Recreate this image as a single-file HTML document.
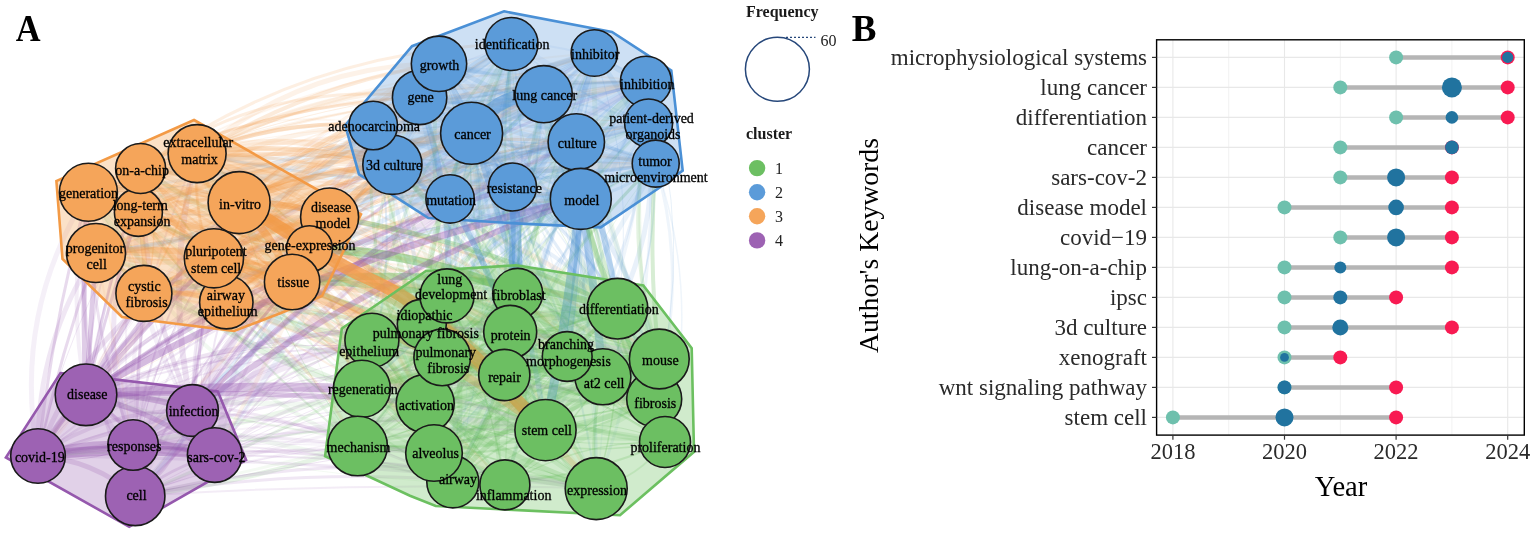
<!DOCTYPE html><html><head><meta charset="utf-8"><style>
html,body{margin:0;padding:0;background:#fff;}
body{width:1535px;height:535px;overflow:hidden;}
svg{display:block;}
text{font-family:"Liberation Serif","Times New Roman",serif;}
</style></head><body>
<svg width="1535" height="535" viewBox="0 0 1535 535">
<text transform="translate(15.8,41.3) scale(0.93,1)" font-size="37" font-weight="bold" fill="#000">A</text>
<g fill="none" stroke-linecap="butt">
<path d="M197.1 153.6Q175.7 190.9 138.4 212.4" stroke="#f29b4a" stroke-width="1" stroke-opacity="0.15"/>
<path d="M197.1 153.6Q170.6 167.9 140.6 168.5" stroke="#f29b4a" stroke-width="2" stroke-opacity="0.15"/>
<path d="M197.1 153.6Q148.1 188 88.4 192.2" stroke="#f29b4a" stroke-width="5" stroke-opacity="0.15"/>
<path d="M329.6 217Q256 200.6 197.1 153.6" stroke="#f29b4a" stroke-width="1" stroke-opacity="0.22"/>
<path d="M226.3 302.2Q191.5 231.9 197.1 153.6" stroke="#f29b4a" stroke-width="3" stroke-opacity="0.20"/>
<path d="M213.9 258.3Q190.8 208.3 197.1 153.6" stroke="#f29b4a" stroke-width="2" stroke-opacity="0.15"/>
<path d="M197.1 153.6Q267.3 184.7 309.5 248.8" stroke="#f29b4a" stroke-width="1.5" stroke-opacity="0.22"/>
<path d="M292.1 282Q220.3 235.8 197.1 153.6" stroke="#f29b4a" stroke-width="4" stroke-opacity="0.21"/>
<path d="M197.1 153.6Q183.7 228.5 143.9 293.4" stroke="#f29b4a" stroke-width="2" stroke-opacity="0.24"/>
<path d="M594.4 53Q415.6 181.7 197.1 153.6" stroke="#4a8fd4" stroke-width="4" stroke-opacity="0.10"/>
<path d="M197.1 153.6Q301.1 96.9 419.6 97.4" stroke="#f29b4a" stroke-width="3" stroke-opacity="0.09"/>
<path d="M197.1 153.6Q301.7 64.5 439 63.8" stroke="#f29b4a" stroke-width="5" stroke-opacity="0.13"/>
<path d="M197.1 153.6Q360.2 64.4 543.7 94.2" stroke="#f29b4a" stroke-width="6" stroke-opacity="0.12"/>
<path d="M197.1 153.6Q410.5 49 645.9 81.7" stroke="#f29b4a" stroke-width="2" stroke-opacity="0.12"/>
<path d="M197.1 153.6Q296.7 125 392.4 164.8" stroke="#f29b4a" stroke-width="6" stroke-opacity="0.17"/>
<path d="M197.1 153.6Q281.6 117.6 373.2 125.5" stroke="#f29b4a" stroke-width="3" stroke-opacity="0.07"/>
<path d="M197.1 153.6Q332.3 115.9 471.6 133.3" stroke="#f29b4a" stroke-width="1" stroke-opacity="0.09"/>
<path d="M576.3 142Q388.1 194.4 197.1 153.6" stroke="#4a8fd4" stroke-width="4" stroke-opacity="0.08"/>
<path d="M655.7 163.6Q425.4 204 197.1 153.6" stroke="#4a8fd4" stroke-width="3" stroke-opacity="0.16"/>
<path d="M197.1 153.6Q327.3 155.7 450.1 198.9" stroke="#f29b4a" stroke-width="3" stroke-opacity="0.17"/>
<path d="M197.1 153.6Q360.7 114.7 512.5 187" stroke="#f29b4a" stroke-width="2" stroke-opacity="0.07"/>
<path d="M197.1 153.6Q394 133.4 580.8 198.9" stroke="#f29b4a" stroke-width="1.5" stroke-opacity="0.11"/>
<path d="M425.2 403.6Q282.2 305 197.1 153.6" stroke="#5fb654" stroke-width="5" stroke-opacity="0.11"/>
<path d="M442.2 357.4Q279.3 304 197.1 153.6" stroke="#5fb654" stroke-width="1" stroke-opacity="0.09"/>
<path d="M567.2 356.5Q365.7 285.1 197.1 153.6" stroke="#5fb654" stroke-width="1" stroke-opacity="0.07"/>
<path d="M197.1 153.6Q447.5 235.6 654.2 399.1" stroke="#f29b4a" stroke-width="1" stroke-opacity="0.08"/>
<path d="M659.3 359Q402.2 314.7 197.1 153.6" stroke="#5fb654" stroke-width="3" stroke-opacity="0.13"/>
<path d="M197.1 153.6Q373.7 232.5 504.3 375" stroke="#f29b4a" stroke-width="4" stroke-opacity="0.12"/>
<path d="M361.9 388.8Q242.6 297.1 197.1 153.6" stroke="#5fb654" stroke-width="2" stroke-opacity="0.12"/>
<path d="M357.6 446Q237.6 321.6 197.1 153.6" stroke="#5fb654" stroke-width="3" stroke-opacity="0.08"/>
<path d="M197.1 153.6Q356.6 293.1 452.8 481.9" stroke="#f29b4a" stroke-width="1" stroke-opacity="0.14"/>
<path d="M197.1 153.6Q366.2 263.2 434 453" stroke="#f29b4a" stroke-width="2" stroke-opacity="0.12"/>
<path d="M197.1 153.6Q481.4 216.1 665 442" stroke="#f29b4a" stroke-width="2" stroke-opacity="0.15"/>
<path d="M197.1 153.6Q463.2 241.9 596.2 488.6" stroke="#f29b4a" stroke-width="3" stroke-opacity="0.14"/>
<path d="M192.5 410.5Q163.3 281.5 197.1 153.6" stroke="#9555ae" stroke-width="6" stroke-opacity="0.17"/>
<path d="M133.1 445Q133.8 292.4 197.1 153.6" stroke="#9555ae" stroke-width="2" stroke-opacity="0.12"/>
<path d="M140.6 168.5Q146.1 190.8 138.4 212.4" stroke="#f29b4a" stroke-width="1" stroke-opacity="0.21"/>
<path d="M138.4 212.4Q110 210.8 88.4 192.2" stroke="#f29b4a" stroke-width="1.5" stroke-opacity="0.27"/>
<path d="M138.4 212.4Q187.3 192.5 239.1 202.6" stroke="#f29b4a" stroke-width="2" stroke-opacity="0.20"/>
<path d="M329.6 217Q233.2 246.1 138.4 212.4" stroke="#f29b4a" stroke-width="5" stroke-opacity="0.20"/>
<path d="M138.4 212.4Q123 238.8 96 253" stroke="#f29b4a" stroke-width="2" stroke-opacity="0.14"/>
<path d="M226.3 302.2Q172.6 266.9 138.4 212.4" stroke="#f29b4a" stroke-width="6" stroke-opacity="0.23"/>
<path d="M138.4 212.4Q183.6 223.1 213.9 258.3" stroke="#f29b4a" stroke-width="1" stroke-opacity="0.25"/>
<path d="M309.5 248.8Q217.3 261.7 138.4 212.4" stroke="#f29b4a" stroke-width="2" stroke-opacity="0.20"/>
<path d="M138.4 212.4Q224.3 227.2 292.1 282" stroke="#f29b4a" stroke-width="3" stroke-opacity="0.17"/>
<path d="M138.4 212.4Q146.7 252.5 143.9 293.4" stroke="#f29b4a" stroke-width="5" stroke-opacity="0.26"/>
<path d="M138.4 212.4Q331.4 120.4 543.7 94.2" stroke="#f29b4a" stroke-width="5" stroke-opacity="0.08"/>
<path d="M645.9 81.7Q414.2 232.6 138.4 212.4" stroke="#4a8fd4" stroke-width="1.5" stroke-opacity="0.13"/>
<path d="M138.4 212.4Q258.8 153.6 392.4 164.8" stroke="#f29b4a" stroke-width="6" stroke-opacity="0.14"/>
<path d="M138.4 212.4Q241.1 129.3 373.2 125.5" stroke="#f29b4a" stroke-width="5" stroke-opacity="0.12"/>
<path d="M138.4 212.4Q381.8 100.8 648.6 123" stroke="#f29b4a" stroke-width="1" stroke-opacity="0.15"/>
<path d="M138.4 212.4Q323.2 166.8 512.5 187" stroke="#f29b4a" stroke-width="5" stroke-opacity="0.13"/>
<path d="M138.4 212.4Q358.3 163.8 580.8 198.9" stroke="#f29b4a" stroke-width="4" stroke-opacity="0.12"/>
<path d="M138.4 212.4Q270.7 247.8 371.9 340.2" stroke="#f29b4a" stroke-width="3" stroke-opacity="0.08"/>
<path d="M138.4 212.4Q301.4 278.6 425.2 403.6" stroke="#f29b4a" stroke-width="1" stroke-opacity="0.09"/>
<path d="M442.2 357.4Q263.7 340.7 138.4 212.4" stroke="#5fb654" stroke-width="3" stroke-opacity="0.08"/>
<path d="M567.2 356.5Q340.9 320 138.4 212.4" stroke="#5fb654" stroke-width="3" stroke-opacity="0.16"/>
<path d="M659.3 359Q381.4 347.7 138.4 212.4" stroke="#5fb654" stroke-width="5" stroke-opacity="0.11"/>
<path d="M138.4 212.4Q343.7 243.4 504.3 375" stroke="#f29b4a" stroke-width="3" stroke-opacity="0.07"/>
<path d="M138.4 212.4Q384.3 242.1 545.5 430.1" stroke="#f29b4a" stroke-width="6" stroke-opacity="0.10"/>
<path d="M357.6 446Q230.6 345.6 138.4 212.4" stroke="#5fb654" stroke-width="2" stroke-opacity="0.17"/>
<path d="M138.4 212.4Q316.7 322.6 452.8 481.9" stroke="#f29b4a" stroke-width="1.5" stroke-opacity="0.10"/>
<path d="M138.4 212.4Q411 278.1 596.2 488.6" stroke="#f29b4a" stroke-width="5" stroke-opacity="0.13"/>
<path d="M86 394.8Q99.4 299.9 138.4 212.4" stroke="#9555ae" stroke-width="1.5" stroke-opacity="0.11"/>
<path d="M38 456Q66 325 138.4 212.4" stroke="#9555ae" stroke-width="1" stroke-opacity="0.13"/>
<path d="M214.7 455.1Q143.2 344.2 138.4 212.4" stroke="#9555ae" stroke-width="1" stroke-opacity="0.10"/>
<path d="M133.1 445Q91.2 327.7 138.4 212.4" stroke="#9555ae" stroke-width="5" stroke-opacity="0.14"/>
<path d="M140.6 168.5Q194.4 172.3 239.1 202.6" stroke="#f29b4a" stroke-width="3" stroke-opacity="0.23"/>
<path d="M140.6 168.5Q243.5 160.1 329.6 217" stroke="#f29b4a" stroke-width="2" stroke-opacity="0.18"/>
<path d="M140.6 168.5Q196.1 227.3 226.3 302.2" stroke="#f29b4a" stroke-width="2" stroke-opacity="0.21"/>
<path d="M213.9 258.3Q165 223.4 140.6 168.5" stroke="#f29b4a" stroke-width="5" stroke-opacity="0.23"/>
<path d="M309.5 248.8Q209.2 242 140.6 168.5" stroke="#f29b4a" stroke-width="3" stroke-opacity="0.24"/>
<path d="M292.1 282Q204 241.7 140.6 168.5" stroke="#f29b4a" stroke-width="2" stroke-opacity="0.20"/>
<path d="M140.6 168.5Q165.1 230.3 143.9 293.4" stroke="#f29b4a" stroke-width="1.5" stroke-opacity="0.23"/>
<path d="M140.6 168.5Q306.9 49.2 511.5 44" stroke="#f29b4a" stroke-width="3" stroke-opacity="0.16"/>
<path d="M140.6 168.5Q357.6 71.7 594.4 53" stroke="#f29b4a" stroke-width="2" stroke-opacity="0.07"/>
<path d="M140.6 168.5Q266.2 78.2 419.6 97.4" stroke="#f29b4a" stroke-width="3" stroke-opacity="0.17"/>
<path d="M140.6 168.5Q280.8 90.6 439 63.8" stroke="#f29b4a" stroke-width="2" stroke-opacity="0.09"/>
<path d="M140.6 168.5Q335.6 95.8 543.7 94.2" stroke="#f29b4a" stroke-width="2" stroke-opacity="0.12"/>
<path d="M140.6 168.5Q386.3 84.6 645.9 81.7" stroke="#f29b4a" stroke-width="2" stroke-opacity="0.15"/>
<path d="M140.6 168.5Q248.6 101.9 373.2 125.5" stroke="#f29b4a" stroke-width="2" stroke-opacity="0.08"/>
<path d="M648.6 123Q399.4 199.4 140.6 168.5" stroke="#4a8fd4" stroke-width="6" stroke-opacity="0.11"/>
<path d="M140.6 168.5Q397.3 74.9 655.7 163.6" stroke="#f29b4a" stroke-width="1.5" stroke-opacity="0.07"/>
<path d="M140.6 168.5Q403.4 155.7 617.5 308.7" stroke="#f29b4a" stroke-width="5" stroke-opacity="0.13"/>
<path d="M421.8 323.9Q271 264.7 140.6 168.5" stroke="#5fb654" stroke-width="2" stroke-opacity="0.08"/>
<path d="M140.6 168.5Q281.6 220.2 371.9 340.2" stroke="#f29b4a" stroke-width="1" stroke-opacity="0.13"/>
<path d="M602.9 376.8Q356.6 306.3 140.6 168.5" stroke="#5fb654" stroke-width="5" stroke-opacity="0.16"/>
<path d="M545.5 430.1Q291.6 378.9 140.6 168.5" stroke="#5fb654" stroke-width="2" stroke-opacity="0.14"/>
<path d="M140.6 168.5Q342.6 279.5 452.8 481.9" stroke="#f29b4a" stroke-width="2" stroke-opacity="0.15"/>
<path d="M140.6 168.5Q445.7 222.9 665 442" stroke="#f29b4a" stroke-width="2" stroke-opacity="0.14"/>
<path d="M140.6 168.5Q417.7 258.4 596.2 488.6" stroke="#f29b4a" stroke-width="4" stroke-opacity="0.10"/>
<path d="M86 394.8Q90.7 276.2 140.6 168.5" stroke="#9555ae" stroke-width="2" stroke-opacity="0.14"/>
<path d="M192.5 410.5Q118.9 299.7 140.6 168.5" stroke="#9555ae" stroke-width="5" stroke-opacity="0.09"/>
<path d="M214.7 455.1Q142.4 320.9 140.6 168.5" stroke="#9555ae" stroke-width="5" stroke-opacity="0.17"/>
<path d="M135.2 495.9Q114.1 331.8 140.6 168.5" stroke="#9555ae" stroke-width="2" stroke-opacity="0.08"/>
<path d="M88.4 192.2Q165.4 173.5 239.1 202.6" stroke="#f29b4a" stroke-width="3" stroke-opacity="0.26"/>
<path d="M329.6 217Q207 224.4 88.4 192.2" stroke="#f29b4a" stroke-width="6" stroke-opacity="0.20"/>
<path d="M88.4 192.2Q169.7 231.7 226.3 302.2" stroke="#f29b4a" stroke-width="2" stroke-opacity="0.20"/>
<path d="M88.4 192.2Q162.9 203 213.9 258.3" stroke="#f29b4a" stroke-width="4" stroke-opacity="0.25"/>
<path d="M309.5 248.8Q193.3 242.7 88.4 192.2" stroke="#f29b4a" stroke-width="1" stroke-opacity="0.27"/>
<path d="M88.4 192.2Q201 212.7 292.1 282" stroke="#f29b4a" stroke-width="1.5" stroke-opacity="0.19"/>
<path d="M88.4 192.2Q131.6 234.3 143.9 293.4" stroke="#f29b4a" stroke-width="1.5" stroke-opacity="0.15"/>
<path d="M594.4 53Q353.5 166.4 88.4 192.2" stroke="#4a8fd4" stroke-width="3" stroke-opacity="0.12"/>
<path d="M419.6 97.4Q268.1 193.9 88.4 192.2" stroke="#4a8fd4" stroke-width="1" stroke-opacity="0.15"/>
<path d="M88.4 192.2Q354.2 71.4 645.9 81.7" stroke="#f29b4a" stroke-width="1" stroke-opacity="0.16"/>
<path d="M373.2 125.5Q243.5 212.9 88.4 192.2" stroke="#4a8fd4" stroke-width="4" stroke-opacity="0.07"/>
<path d="M88.4 192.2Q274.4 126 471.6 133.3" stroke="#f29b4a" stroke-width="3" stroke-opacity="0.10"/>
<path d="M88.4 192.2Q368.8 112.5 655.7 163.6" stroke="#f29b4a" stroke-width="4" stroke-opacity="0.13"/>
<path d="M88.4 192.2Q270.4 132.7 450.1 198.9" stroke="#f29b4a" stroke-width="2" stroke-opacity="0.12"/>
<path d="M88.4 192.2Q335.5 128.2 580.8 198.9" stroke="#f29b4a" stroke-width="4" stroke-opacity="0.11"/>
<path d="M88.4 192.2Q312.5 202.7 517.6 293.4" stroke="#f29b4a" stroke-width="5" stroke-opacity="0.08"/>
<path d="M88.4 192.2Q366.7 188.1 617.5 308.7" stroke="#f29b4a" stroke-width="1" stroke-opacity="0.14"/>
<path d="M88.4 192.2Q318.9 202.8 510.2 331.9" stroke="#f29b4a" stroke-width="1" stroke-opacity="0.12"/>
<path d="M371.9 340.2Q203.4 317.5 88.4 192.2" stroke="#5fb654" stroke-width="5" stroke-opacity="0.13"/>
<path d="M88.4 192.2Q288.6 247.2 425.2 403.6" stroke="#f29b4a" stroke-width="2" stroke-opacity="0.11"/>
<path d="M602.9 376.8Q323.6 346 88.4 192.2" stroke="#5fb654" stroke-width="1" stroke-opacity="0.08"/>
<path d="M361.9 388.8Q186.6 344.1 88.4 192.2" stroke="#5fb654" stroke-width="5" stroke-opacity="0.16"/>
<path d="M88.4 192.2Q363.6 221.5 545.5 430.1" stroke="#f29b4a" stroke-width="1.5" stroke-opacity="0.09"/>
<path d="M357.6 446Q180.2 364.5 88.4 192.2" stroke="#5fb654" stroke-width="4" stroke-opacity="0.08"/>
<path d="M88.4 192.2Q314.2 282.3 452.8 481.9" stroke="#f29b4a" stroke-width="6" stroke-opacity="0.16"/>
<path d="M88.4 192.2Q292.8 280.7 434 453" stroke="#f29b4a" stroke-width="2" stroke-opacity="0.12"/>
<path d="M88.4 192.2Q324.9 298.3 504.9 484.9" stroke="#f29b4a" stroke-width="6" stroke-opacity="0.09"/>
<path d="M86 394.8Q66.1 293.2 88.4 192.2" stroke="#9555ae" stroke-width="4" stroke-opacity="0.10"/>
<path d="M38 456Q11.9 314.3 88.4 192.2" stroke="#9555ae" stroke-width="5" stroke-opacity="0.09"/>
<path d="M135.2 495.9Q66.1 351.1 88.4 192.2" stroke="#9555ae" stroke-width="4" stroke-opacity="0.16"/>
<path d="M133.1 445Q87.6 322.7 88.4 192.2" stroke="#9555ae" stroke-width="3" stroke-opacity="0.16"/>
<path d="M239.1 202.6Q286 199.3 329.6 217" stroke="#f29b4a" stroke-width="5" stroke-opacity="0.19"/>
<path d="M239.1 202.6Q177.4 255.8 96 253" stroke="#f29b4a" stroke-width="1.5" stroke-opacity="0.17"/>
<path d="M226.3 302.2Q223 251.2 239.1 202.6" stroke="#f29b4a" stroke-width="2" stroke-opacity="0.21"/>
<path d="M239.1 202.6Q236.8 235.1 213.9 258.3" stroke="#f29b4a" stroke-width="6" stroke-opacity="0.23"/>
<path d="M309.5 248.8Q270.6 231.4 239.1 202.6" stroke="#f29b4a" stroke-width="1" stroke-opacity="0.27"/>
<path d="M239.1 202.6Q278.3 233.9 292.1 282" stroke="#f29b4a" stroke-width="2" stroke-opacity="0.20"/>
<path d="M239.1 202.6Q209.6 267 143.9 293.4" stroke="#f29b4a" stroke-width="4" stroke-opacity="0.24"/>
<path d="M239.1 202.6Q407.1 104.9 594.4 53" stroke="#f29b4a" stroke-width="5" stroke-opacity="0.14"/>
<path d="M239.1 202.6Q328.6 118.2 439 63.8" stroke="#f29b4a" stroke-width="3" stroke-opacity="0.11"/>
<path d="M239.1 202.6Q383 124.8 543.7 94.2" stroke="#f29b4a" stroke-width="3" stroke-opacity="0.17"/>
<path d="M239.1 202.6Q311.2 165.2 392.4 164.8" stroke="#f29b4a" stroke-width="2" stroke-opacity="0.15"/>
<path d="M239.1 202.6Q296.7 147.6 373.2 125.5" stroke="#f29b4a" stroke-width="3" stroke-opacity="0.12"/>
<path d="M239.1 202.6Q347.2 140.6 471.6 133.3" stroke="#f29b4a" stroke-width="4" stroke-opacity="0.07"/>
<path d="M239.1 202.6Q444.7 154.5 655.7 163.6" stroke="#f29b4a" stroke-width="1" stroke-opacity="0.15"/>
<path d="M239.1 202.6Q344.2 180 450.1 198.9" stroke="#f29b4a" stroke-width="6" stroke-opacity="0.10"/>
<path d="M517.6 293.4Q369.1 276.3 239.1 202.6" stroke="#5fb654" stroke-width="3" stroke-opacity="0.16"/>
<path d="M371.9 340.2Q278.8 297.2 239.1 202.6" stroke="#5fb654" stroke-width="1" stroke-opacity="0.12"/>
<path d="M239.1 202.6Q352.8 264 442.2 357.4" stroke="#f29b4a" stroke-width="3" stroke-opacity="0.15"/>
<path d="M567.2 356.5Q377.3 334.7 239.1 202.6" stroke="#5fb654" stroke-width="2" stroke-opacity="0.15"/>
<path d="M239.1 202.6Q471.6 220.5 659.3 359" stroke="#f29b4a" stroke-width="3" stroke-opacity="0.15"/>
<path d="M239.1 202.6Q312.6 287.7 361.9 388.8" stroke="#f29b4a" stroke-width="3" stroke-opacity="0.08"/>
<path d="M357.6 446Q274.7 335.8 239.1 202.6" stroke="#5fb654" stroke-width="1" stroke-opacity="0.17"/>
<path d="M239.1 202.6Q400.7 300.3 452.8 481.9" stroke="#f29b4a" stroke-width="4" stroke-opacity="0.17"/>
<path d="M239.1 202.6Q375.2 297.7 434 453" stroke="#f29b4a" stroke-width="4" stroke-opacity="0.13"/>
<path d="M86 394.8Q143.8 283.8 239.1 202.6" stroke="#9555ae" stroke-width="2" stroke-opacity="0.10"/>
<path d="M192.5 410.5Q196.2 302.2 239.1 202.6" stroke="#9555ae" stroke-width="4" stroke-opacity="0.09"/>
<path d="M239.1 202.6Q142.4 332.3 38 456" stroke="#f29b4a" stroke-width="6" stroke-opacity="0.09"/>
<path d="M214.7 455.1Q176.7 324 239.1 202.6" stroke="#9555ae" stroke-width="1" stroke-opacity="0.14"/>
<path d="M135.2 495.9Q132 329.7 239.1 202.6" stroke="#9555ae" stroke-width="2" stroke-opacity="0.15"/>
<path d="M133.1 445Q151.2 308.5 239.1 202.6" stroke="#9555ae" stroke-width="1" stroke-opacity="0.08"/>
<path d="M329.6 217Q219.3 277.3 96 253" stroke="#f29b4a" stroke-width="1.5" stroke-opacity="0.19"/>
<path d="M329.6 217Q290.2 274.4 226.3 302.2" stroke="#f29b4a" stroke-width="1" stroke-opacity="0.15"/>
<path d="M329.6 217Q274.5 245.3 213.9 258.3" stroke="#f29b4a" stroke-width="4" stroke-opacity="0.19"/>
<path d="M292.1 282Q299.5 243 329.6 217" stroke="#f29b4a" stroke-width="2" stroke-opacity="0.25"/>
<path d="M329.6 217Q241.7 267.2 143.9 293.4" stroke="#f29b4a" stroke-width="3" stroke-opacity="0.15"/>
<path d="M329.6 217Q400.6 109.5 511.5 44" stroke="#f29b4a" stroke-width="3" stroke-opacity="0.08"/>
<path d="M329.6 217Q369 129.5 439 63.8" stroke="#f29b4a" stroke-width="2" stroke-opacity="0.11"/>
<path d="M543.7 94.2Q459.2 194.9 329.6 217" stroke="#4a8fd4" stroke-width="2" stroke-opacity="0.14"/>
<path d="M329.6 217Q472.2 113.1 645.9 81.7" stroke="#f29b4a" stroke-width="3" stroke-opacity="0.13"/>
<path d="M392.4 164.8Q367.2 198.4 329.6 217" stroke="#4a8fd4" stroke-width="3" stroke-opacity="0.16"/>
<path d="M471.6 133.3Q407.1 186.3 329.6 217" stroke="#4a8fd4" stroke-width="4" stroke-opacity="0.15"/>
<path d="M329.6 217Q475.3 123.1 648.6 123" stroke="#f29b4a" stroke-width="3" stroke-opacity="0.08"/>
<path d="M329.6 217Q446.8 159.1 576.3 142" stroke="#f29b4a" stroke-width="1.5" stroke-opacity="0.10"/>
<path d="M329.6 217Q483.4 134 655.7 163.6" stroke="#f29b4a" stroke-width="3" stroke-opacity="0.12"/>
<path d="M329.6 217Q417.2 178.7 512.5 187" stroke="#f29b4a" stroke-width="1" stroke-opacity="0.17"/>
<path d="M580.8 198.9Q458.1 248.1 329.6 217" stroke="#4a8fd4" stroke-width="3" stroke-opacity="0.08"/>
<path d="M329.6 217Q399 299.2 425.2 403.6" stroke="#f29b4a" stroke-width="6" stroke-opacity="0.09"/>
<path d="M329.6 217Q494.1 249.3 602.9 376.8" stroke="#f29b4a" stroke-width="2" stroke-opacity="0.17"/>
<path d="M567.2 356.5Q433.7 311.8 329.6 217" stroke="#5fb654" stroke-width="1" stroke-opacity="0.14"/>
<path d="M329.6 217Q510.7 274.6 654.2 399.1" stroke="#f29b4a" stroke-width="2" stroke-opacity="0.13"/>
<path d="M329.6 217Q511.7 248 659.3 359" stroke="#f29b4a" stroke-width="3" stroke-opacity="0.11"/>
<path d="M504.3 375Q397.6 317.4 329.6 217" stroke="#5fb654" stroke-width="4" stroke-opacity="0.12"/>
<path d="M329.6 217Q524.7 288.6 665 442" stroke="#f29b4a" stroke-width="3" stroke-opacity="0.08"/>
<path d="M596.2 488.6Q434.7 380.5 329.6 217" stroke="#5fb654" stroke-width="1" stroke-opacity="0.16"/>
<path d="M192.5 410.5Q228.2 290.5 329.6 217" stroke="#9555ae" stroke-width="3" stroke-opacity="0.14"/>
<path d="M38 456Q142.2 285.7 329.6 217" stroke="#9555ae" stroke-width="6" stroke-opacity="0.14"/>
<path d="M329.6 217Q283.5 341.5 214.7 455.1" stroke="#f29b4a" stroke-width="4" stroke-opacity="0.10"/>
<path d="M135.2 495.9Q202 335.2 329.6 217" stroke="#9555ae" stroke-width="2" stroke-opacity="0.08"/>
<path d="M226.3 302.2Q155.1 293.7 96 253" stroke="#f29b4a" stroke-width="3" stroke-opacity="0.27"/>
<path d="M213.9 258.3Q154.4 267.1 96 253" stroke="#f29b4a" stroke-width="6" stroke-opacity="0.17"/>
<path d="M96 253Q202.3 226 309.5 248.8" stroke="#f29b4a" stroke-width="1" stroke-opacity="0.17"/>
<path d="M96 253Q196.5 251.1 292.1 282" stroke="#f29b4a" stroke-width="4" stroke-opacity="0.27"/>
<path d="M96 253Q124.4 267.9 143.9 293.4" stroke="#f29b4a" stroke-width="1" stroke-opacity="0.23"/>
<path d="M543.7 94.2Q337.6 223.7 96 253" stroke="#4a8fd4" stroke-width="3" stroke-opacity="0.14"/>
<path d="M96 253Q342.3 75.5 645.9 81.7" stroke="#f29b4a" stroke-width="1.5" stroke-opacity="0.11"/>
<path d="M96 253Q232.5 169.7 392.4 164.8" stroke="#f29b4a" stroke-width="1" stroke-opacity="0.10"/>
<path d="M373.2 125.5Q258.2 240.6 96 253" stroke="#4a8fd4" stroke-width="6" stroke-opacity="0.16"/>
<path d="M96 253Q323.8 144.2 576.3 142" stroke="#f29b4a" stroke-width="3" stroke-opacity="0.11"/>
<path d="M96 253Q370.2 173 655.7 163.6" stroke="#f29b4a" stroke-width="6" stroke-opacity="0.14"/>
<path d="M96 253Q265.8 178.2 450.1 198.9" stroke="#f29b4a" stroke-width="1" stroke-opacity="0.12"/>
<path d="M96 253Q294.5 158.6 512.5 187" stroke="#f29b4a" stroke-width="1.5" stroke-opacity="0.09"/>
<path d="M96 253Q331.7 166.3 580.8 198.9" stroke="#f29b4a" stroke-width="2" stroke-opacity="0.14"/>
<path d="M96 253Q310.7 232.3 517.6 293.4" stroke="#f29b4a" stroke-width="2" stroke-opacity="0.11"/>
<path d="M617.5 308.7Q348.8 355.6 96 253" stroke="#5fb654" stroke-width="5" stroke-opacity="0.16"/>
<path d="M96 253Q278.2 289.8 425.2 403.6" stroke="#f29b4a" stroke-width="1" stroke-opacity="0.12"/>
<path d="M96 253Q283.4 257.7 442.2 357.4" stroke="#f29b4a" stroke-width="1" stroke-opacity="0.07"/>
<path d="M96 253Q347.2 233.8 567.2 356.5" stroke="#f29b4a" stroke-width="6" stroke-opacity="0.13"/>
<path d="M361.9 388.8Q220.7 337.1 96 253" stroke="#5fb654" stroke-width="4" stroke-opacity="0.14"/>
<path d="M96 253Q318.4 337.4 504.9 484.9" stroke="#f29b4a" stroke-width="2" stroke-opacity="0.13"/>
<path d="M38 456Q35.3 345.5 96 253" stroke="#9555ae" stroke-width="5" stroke-opacity="0.14"/>
<path d="M96 253Q116.5 348.6 133.1 445" stroke="#f29b4a" stroke-width="2" stroke-opacity="0.08"/>
<path d="M226.3 302.2Q262.3 266.7 309.5 248.8" stroke="#f29b4a" stroke-width="2" stroke-opacity="0.24"/>
<path d="M226.3 302.2Q255.6 280.3 292.1 282" stroke="#f29b4a" stroke-width="2" stroke-opacity="0.19"/>
<path d="M226.3 302.2Q286.1 165 419.6 97.4" stroke="#f29b4a" stroke-width="5" stroke-opacity="0.14"/>
<path d="M226.3 302.2Q292 146.7 439 63.8" stroke="#f29b4a" stroke-width="6" stroke-opacity="0.16"/>
<path d="M226.3 302.2Q368.3 172.7 543.7 94.2" stroke="#f29b4a" stroke-width="6" stroke-opacity="0.16"/>
<path d="M226.3 302.2Q418.5 158.4 645.9 81.7" stroke="#f29b4a" stroke-width="1.5" stroke-opacity="0.10"/>
<path d="M226.3 302.2Q286.9 206.4 392.4 164.8" stroke="#f29b4a" stroke-width="1" stroke-opacity="0.14"/>
<path d="M226.3 302.2Q265.5 185.4 373.2 125.5" stroke="#f29b4a" stroke-width="3" stroke-opacity="0.09"/>
<path d="M226.3 302.2Q334 196 471.6 133.3" stroke="#f29b4a" stroke-width="3" stroke-opacity="0.08"/>
<path d="M226.3 302.2Q410.9 149.9 648.6 123" stroke="#f29b4a" stroke-width="1" stroke-opacity="0.15"/>
<path d="M226.3 302.2Q377.2 169.4 576.3 142" stroke="#f29b4a" stroke-width="1" stroke-opacity="0.15"/>
<path d="M226.3 302.2Q427.7 191.7 655.7 163.6" stroke="#f29b4a" stroke-width="2" stroke-opacity="0.07"/>
<path d="M226.3 302.2Q320.9 213 450.1 198.9" stroke="#f29b4a" stroke-width="3" stroke-opacity="0.16"/>
<path d="M226.3 302.2Q396.9 227.7 580.8 198.9" stroke="#f29b4a" stroke-width="1" stroke-opacity="0.15"/>
<path d="M226.3 302.2Q422.5 270.1 617.5 308.7" stroke="#f29b4a" stroke-width="1" stroke-opacity="0.12"/>
<path d="M447 295.9Q337.5 328.5 226.3 302.2" stroke="#5fb654" stroke-width="1.5" stroke-opacity="0.11"/>
<path d="M510.2 331.9Q364.4 353.6 226.3 302.2" stroke="#5fb654" stroke-width="1" stroke-opacity="0.07"/>
<path d="M226.3 302.2Q341.5 301.3 442.2 357.4" stroke="#f29b4a" stroke-width="3" stroke-opacity="0.17"/>
<path d="M567.2 356.5Q392.7 355.1 226.3 302.2" stroke="#5fb654" stroke-width="2" stroke-opacity="0.12"/>
<path d="M659.3 359Q434.4 394.6 226.3 302.2" stroke="#5fb654" stroke-width="5" stroke-opacity="0.15"/>
<path d="M226.3 302.2Q377.3 292.9 504.3 375" stroke="#f29b4a" stroke-width="3" stroke-opacity="0.16"/>
<path d="M226.3 302.2Q310.7 357 357.6 446" stroke="#f29b4a" stroke-width="3" stroke-opacity="0.16"/>
<path d="M452.8 481.9Q325.6 409.7 226.3 302.2" stroke="#5fb654" stroke-width="2" stroke-opacity="0.16"/>
<path d="M226.3 302.2Q444.4 329.5 596.2 488.6" stroke="#f29b4a" stroke-width="5" stroke-opacity="0.09"/>
<path d="M86 394.8Q141.7 326.5 226.3 302.2" stroke="#9555ae" stroke-width="1.5" stroke-opacity="0.12"/>
<path d="M192.5 410.5Q189.5 350.1 226.3 302.2" stroke="#9555ae" stroke-width="3" stroke-opacity="0.12"/>
<path d="M38 456Q105.1 346 226.3 302.2" stroke="#9555ae" stroke-width="2" stroke-opacity="0.15"/>
<path d="M214.7 455.1Q198.4 377 226.3 302.2" stroke="#9555ae" stroke-width="2" stroke-opacity="0.14"/>
<path d="M135.2 495.9Q143.2 381.4 226.3 302.2" stroke="#9555ae" stroke-width="2" stroke-opacity="0.10"/>
<path d="M309.5 248.8Q263.6 272.5 213.9 258.3" stroke="#f29b4a" stroke-width="2" stroke-opacity="0.19"/>
<path d="M292.1 282Q251.2 276 213.9 258.3" stroke="#f29b4a" stroke-width="5" stroke-opacity="0.18"/>
<path d="M511.5 44Q387.5 185.6 213.9 258.3" stroke="#4a8fd4" stroke-width="4" stroke-opacity="0.07"/>
<path d="M213.9 258.3Q307.8 139.4 439 63.8" stroke="#f29b4a" stroke-width="4" stroke-opacity="0.07"/>
<path d="M213.9 258.3Q404.8 108.6 645.9 81.7" stroke="#f29b4a" stroke-width="3" stroke-opacity="0.14"/>
<path d="M213.9 258.3Q355.8 191.6 512.5 187" stroke="#f29b4a" stroke-width="1" stroke-opacity="0.12"/>
<path d="M213.9 258.3Q370.9 230.9 517.6 293.4" stroke="#f29b4a" stroke-width="3" stroke-opacity="0.14"/>
<path d="M213.9 258.3Q424.8 210.8 617.5 308.7" stroke="#f29b4a" stroke-width="4" stroke-opacity="0.07"/>
<path d="M213.9 258.3Q330.4 315.1 425.2 403.6" stroke="#f29b4a" stroke-width="4" stroke-opacity="0.16"/>
<path d="M213.9 258.3Q335.4 290.9 442.2 357.4" stroke="#f29b4a" stroke-width="2" stroke-opacity="0.12"/>
<path d="M434 453Q286.8 397.6 213.9 258.3" stroke="#5fb654" stroke-width="3" stroke-opacity="0.12"/>
<path d="M86 394.8Q133.8 311.4 213.9 258.3" stroke="#9555ae" stroke-width="1" stroke-opacity="0.07"/>
<path d="M192.5 410.5Q191.7 332.8 213.9 258.3" stroke="#9555ae" stroke-width="3" stroke-opacity="0.13"/>
<path d="M38 456Q86.6 322.1 213.9 258.3" stroke="#9555ae" stroke-width="5" stroke-opacity="0.17"/>
<path d="M135.2 495.9Q139.2 365.4 213.9 258.3" stroke="#9555ae" stroke-width="1" stroke-opacity="0.15"/>
<path d="M133.1 445Q158.5 345.1 213.9 258.3" stroke="#9555ae" stroke-width="2" stroke-opacity="0.15"/>
<path d="M292.1 282Q297.4 263.6 309.5 248.8" stroke="#f29b4a" stroke-width="5" stroke-opacity="0.21"/>
<path d="M309.5 248.8Q234.7 300.8 143.9 293.4" stroke="#f29b4a" stroke-width="6" stroke-opacity="0.19"/>
<path d="M309.5 248.8Q378.7 115.1 511.5 44" stroke="#f29b4a" stroke-width="2" stroke-opacity="0.17"/>
<path d="M309.5 248.8Q422.3 107.7 594.4 53" stroke="#f29b4a" stroke-width="2" stroke-opacity="0.11"/>
<path d="M309.5 248.8Q341.5 156.3 419.6 97.4" stroke="#f29b4a" stroke-width="6" stroke-opacity="0.13"/>
<path d="M439 63.8Q406.8 179.1 309.5 248.8" stroke="#4a8fd4" stroke-width="3" stroke-opacity="0.08"/>
<path d="M309.5 248.8Q345.8 201.7 392.4 164.8" stroke="#f29b4a" stroke-width="6" stroke-opacity="0.07"/>
<path d="M309.5 248.8Q468.2 156.7 648.6 123" stroke="#f29b4a" stroke-width="1.5" stroke-opacity="0.16"/>
<path d="M309.5 248.8Q424.7 149.8 576.3 142" stroke="#f29b4a" stroke-width="2" stroke-opacity="0.16"/>
<path d="M655.7 163.6Q488.8 231.4 309.5 248.8" stroke="#4a8fd4" stroke-width="6" stroke-opacity="0.17"/>
<path d="M309.5 248.8Q401.3 186 512.5 187" stroke="#f29b4a" stroke-width="2" stroke-opacity="0.09"/>
<path d="M309.5 248.8Q441.3 203.1 580.8 198.9" stroke="#f29b4a" stroke-width="4" stroke-opacity="0.14"/>
<path d="M309.5 248.8Q419.7 242.4 517.6 293.4" stroke="#f29b4a" stroke-width="1.5" stroke-opacity="0.12"/>
<path d="M309.5 248.8Q414.9 278.1 510.2 331.9" stroke="#f29b4a" stroke-width="6" stroke-opacity="0.16"/>
<path d="M309.5 248.8Q498.5 285.9 654.2 399.1" stroke="#f29b4a" stroke-width="1" stroke-opacity="0.09"/>
<path d="M309.5 248.8Q416.1 297.6 504.3 375" stroke="#f29b4a" stroke-width="3" stroke-opacity="0.15"/>
<path d="M309.5 248.8Q354.7 342.2 357.6 446" stroke="#f29b4a" stroke-width="3" stroke-opacity="0.13"/>
<path d="M309.5 248.8Q410.1 327.5 434 453" stroke="#f29b4a" stroke-width="5" stroke-opacity="0.13"/>
<path d="M309.5 248.8Q521.2 282.9 665 442" stroke="#f29b4a" stroke-width="2" stroke-opacity="0.13"/>
<path d="M504.9 484.9Q360.5 405.5 309.5 248.8" stroke="#5fb654" stroke-width="3" stroke-opacity="0.10"/>
<path d="M86 394.8Q182.2 298 309.5 248.8" stroke="#9555ae" stroke-width="4" stroke-opacity="0.15"/>
<path d="M192.5 410.5Q239.3 321.2 309.5 248.8" stroke="#9555ae" stroke-width="6" stroke-opacity="0.17"/>
<path d="M214.7 455.1Q248.3 345.6 309.5 248.8" stroke="#9555ae" stroke-width="3" stroke-opacity="0.12"/>
<path d="M135.2 495.9Q191.1 350.3 309.5 248.8" stroke="#9555ae" stroke-width="2" stroke-opacity="0.15"/>
<path d="M143.9 293.4Q216.3 265.8 292.1 282" stroke="#f29b4a" stroke-width="5" stroke-opacity="0.23"/>
<path d="M292.1 282Q347.1 160.5 439 63.8" stroke="#f29b4a" stroke-width="4" stroke-opacity="0.13"/>
<path d="M292.1 282Q321.7 205.8 392.4 164.8" stroke="#f29b4a" stroke-width="1" stroke-opacity="0.11"/>
<path d="M292.1 282Q460.4 180.1 648.6 123" stroke="#f29b4a" stroke-width="3" stroke-opacity="0.07"/>
<path d="M292.1 282Q391 208.3 512.5 187" stroke="#f29b4a" stroke-width="1" stroke-opacity="0.15"/>
<path d="M617.5 308.7Q449.7 357.6 292.1 282" stroke="#5fb654" stroke-width="6" stroke-opacity="0.13"/>
<path d="M371.9 340.2Q323.4 322.9 292.1 282" stroke="#5fb654" stroke-width="2" stroke-opacity="0.16"/>
<path d="M442.2 357.4Q361.3 331.3 292.1 282" stroke="#5fb654" stroke-width="1" stroke-opacity="0.09"/>
<path d="M292.1 282Q436.1 295.5 567.2 356.5" stroke="#f29b4a" stroke-width="4" stroke-opacity="0.14"/>
<path d="M654.2 399.1Q464.7 366.5 292.1 282" stroke="#5fb654" stroke-width="1.5" stroke-opacity="0.14"/>
<path d="M357.6 446Q314.7 368.1 292.1 282" stroke="#5fb654" stroke-width="1" stroke-opacity="0.07"/>
<path d="M292.1 282Q507.4 294.7 665 442" stroke="#f29b4a" stroke-width="6" stroke-opacity="0.09"/>
<path d="M292.1 282Q470.1 347.1 596.2 488.6" stroke="#f29b4a" stroke-width="6" stroke-opacity="0.14"/>
<path d="M292.1 282Q193.3 346.2 86 394.8" stroke="#f29b4a" stroke-width="1" stroke-opacity="0.11"/>
<path d="M192.5 410.5Q220.5 329.3 292.1 282" stroke="#9555ae" stroke-width="4" stroke-opacity="0.16"/>
<path d="M38 456Q138.8 330.6 292.1 282" stroke="#9555ae" stroke-width="1" stroke-opacity="0.13"/>
<path d="M292.1 282Q217.6 391.9 135.2 495.9" stroke="#f29b4a" stroke-width="1" stroke-opacity="0.15"/>
<path d="M292.1 282Q220.1 370.9 133.1 445" stroke="#f29b4a" stroke-width="3" stroke-opacity="0.11"/>
<path d="M143.9 293.4Q303.4 132.9 511.5 44" stroke="#f29b4a" stroke-width="1" stroke-opacity="0.10"/>
<path d="M594.4 53Q388.3 209.1 143.9 293.4" stroke="#4a8fd4" stroke-width="1" stroke-opacity="0.10"/>
<path d="M543.7 94.2Q381.2 268.9 143.9 293.4" stroke="#4a8fd4" stroke-width="5" stroke-opacity="0.14"/>
<path d="M143.9 293.4Q370.9 130.6 645.9 81.7" stroke="#f29b4a" stroke-width="5" stroke-opacity="0.12"/>
<path d="M143.9 293.4Q381.1 163.3 648.6 123" stroke="#f29b4a" stroke-width="3" stroke-opacity="0.12"/>
<path d="M143.9 293.4Q349.2 186.4 576.3 142" stroke="#f29b4a" stroke-width="3" stroke-opacity="0.12"/>
<path d="M143.9 293.4Q314 191.2 512.5 187" stroke="#f29b4a" stroke-width="2" stroke-opacity="0.16"/>
<path d="M143.9 293.4Q355.5 214.3 580.8 198.9" stroke="#f29b4a" stroke-width="2" stroke-opacity="0.09"/>
<path d="M143.9 293.4Q382.7 238.3 617.5 308.7" stroke="#f29b4a" stroke-width="3" stroke-opacity="0.11"/>
<path d="M143.9 293.4Q285.1 287.8 421.8 323.9" stroke="#f29b4a" stroke-width="4" stroke-opacity="0.11"/>
<path d="M143.9 293.4Q264.7 283.7 371.9 340.2" stroke="#f29b4a" stroke-width="3" stroke-opacity="0.10"/>
<path d="M143.9 293.4Q299.9 309.3 425.2 403.6" stroke="#f29b4a" stroke-width="6" stroke-opacity="0.12"/>
<path d="M442.2 357.4Q285.2 362 143.9 293.4" stroke="#5fb654" stroke-width="3" stroke-opacity="0.08"/>
<path d="M654.2 399.1Q390 389.8 143.9 293.4" stroke="#5fb654" stroke-width="3" stroke-opacity="0.09"/>
<path d="M143.9 293.4Q412 244.4 659.3 359" stroke="#f29b4a" stroke-width="5" stroke-opacity="0.11"/>
<path d="M143.9 293.4Q361.5 319.2 504.9 484.9" stroke="#f29b4a" stroke-width="2" stroke-opacity="0.13"/>
<path d="M86 394.8Q105.5 338.7 143.9 293.4" stroke="#9555ae" stroke-width="1.5" stroke-opacity="0.11"/>
<path d="M143.9 293.4Q91.2 374.9 38 456" stroke="#f29b4a" stroke-width="3" stroke-opacity="0.08"/>
<path d="M135.2 495.9Q123.3 394 143.9 293.4" stroke="#9555ae" stroke-width="4" stroke-opacity="0.08"/>
<path d="M511.5 44Q469.5 77.6 419.6 97.4" stroke="#4a8fd4" stroke-width="6" stroke-opacity="0.14"/>
<path d="M511.5 44Q477.5 62.1 439 63.8" stroke="#4a8fd4" stroke-width="1.5" stroke-opacity="0.10"/>
<path d="M543.7 94.2Q518.2 75.1 511.5 44" stroke="#4a8fd4" stroke-width="1" stroke-opacity="0.11"/>
<path d="M511.5 44Q584.2 43.1 645.9 81.7" stroke="#4a8fd4" stroke-width="2" stroke-opacity="0.08"/>
<path d="M392.4 164.8Q429 81.8 511.5 44" stroke="#4a8fd4" stroke-width="6" stroke-opacity="0.16"/>
<path d="M511.5 44Q451.1 99.6 373.2 125.5" stroke="#4a8fd4" stroke-width="1.5" stroke-opacity="0.11"/>
<path d="M511.5 44Q499.7 92.3 471.6 133.3" stroke="#4a8fd4" stroke-width="4" stroke-opacity="0.08"/>
<path d="M648.6 123Q573.7 94.6 511.5 44" stroke="#4a8fd4" stroke-width="2" stroke-opacity="0.11"/>
<path d="M511.5 44Q561.3 81.5 576.3 142" stroke="#4a8fd4" stroke-width="1" stroke-opacity="0.09"/>
<path d="M511.5 44Q598.4 85.9 655.7 163.6" stroke="#4a8fd4" stroke-width="6" stroke-opacity="0.08"/>
<path d="M511.5 44Q507.2 131.9 450.1 198.9" stroke="#4a8fd4" stroke-width="1" stroke-opacity="0.13"/>
<path d="M580.8 198.9Q532.5 127.6 511.5 44" stroke="#4a8fd4" stroke-width="1.5" stroke-opacity="0.09"/>
<path d="M517.6 293.4Q496.2 169.1 511.5 44" stroke="#5fb654" stroke-width="2" stroke-opacity="0.16"/>
<path d="M617.5 308.7Q512.4 197.2 511.5 44" stroke="#5fb654" stroke-width="1" stroke-opacity="0.15"/>
<path d="M421.8 323.9Q436.5 174.3 511.5 44" stroke="#5fb654" stroke-width="4" stroke-opacity="0.15"/>
<path d="M511.5 44Q507.1 177.1 447 295.9" stroke="#4a8fd4" stroke-width="5" stroke-opacity="0.10"/>
<path d="M511.5 44Q533.7 188.1 510.2 331.9" stroke="#4a8fd4" stroke-width="2" stroke-opacity="0.13"/>
<path d="M371.9 340.2Q420.6 182.2 511.5 44" stroke="#5fb654" stroke-width="1.5" stroke-opacity="0.09"/>
<path d="M425.2 403.6Q437.9 216.5 511.5 44" stroke="#5fb654" stroke-width="4" stroke-opacity="0.15"/>
<path d="M442.2 357.4Q449.2 194.6 511.5 44" stroke="#5fb654" stroke-width="2" stroke-opacity="0.13"/>
<path d="M602.9 376.8Q494.5 227.6 511.5 44" stroke="#5fb654" stroke-width="3" stroke-opacity="0.15"/>
<path d="M511.5 44Q624.5 204.8 654.2 399.1" stroke="#4a8fd4" stroke-width="4" stroke-opacity="0.08"/>
<path d="M504.3 375Q449.5 208.2 511.5 44" stroke="#5fb654" stroke-width="2" stroke-opacity="0.09"/>
<path d="M511.5 44Q498.8 243.3 361.9 388.8" stroke="#4a8fd4" stroke-width="3" stroke-opacity="0.13"/>
<path d="M545.5 430.1Q486.1 240.8 511.5 44" stroke="#5fb654" stroke-width="5" stroke-opacity="0.08"/>
<path d="M357.6 446Q361.6 217.1 511.5 44" stroke="#5fb654" stroke-width="3" stroke-opacity="0.15"/>
<path d="M511.5 44Q613.6 233.2 665 442" stroke="#4a8fd4" stroke-width="4" stroke-opacity="0.11"/>
<path d="M511.5 44Q591.9 259.1 596.2 488.6" stroke="#4a8fd4" stroke-width="1" stroke-opacity="0.09"/>
<path d="M86 394.8Q232.2 138.7 511.5 44" stroke="#9555ae" stroke-width="1" stroke-opacity="0.07"/>
<path d="M594.4 53Q514.1 103.2 419.6 97.4" stroke="#4a8fd4" stroke-width="4" stroke-opacity="0.15"/>
<path d="M594.4 53Q518.5 84.3 439 63.8" stroke="#4a8fd4" stroke-width="6" stroke-opacity="0.12"/>
<path d="M594.4 53Q572.8 78.3 543.7 94.2" stroke="#4a8fd4" stroke-width="2" stroke-opacity="0.12"/>
<path d="M645.9 81.7Q617.8 71.6 594.4 53" stroke="#4a8fd4" stroke-width="6" stroke-opacity="0.14"/>
<path d="M392.4 164.8Q477.3 79.9 594.4 53" stroke="#4a8fd4" stroke-width="5" stroke-opacity="0.13"/>
<path d="M594.4 53Q491.6 113 373.2 125.5" stroke="#4a8fd4" stroke-width="1" stroke-opacity="0.14"/>
<path d="M594.4 53Q544.2 110.2 471.6 133.3" stroke="#4a8fd4" stroke-width="5" stroke-opacity="0.15"/>
<path d="M594.4 53Q592.5 99 576.3 142" stroke="#4a8fd4" stroke-width="1" stroke-opacity="0.10"/>
<path d="M594.4 53Q631.9 104.5 655.7 163.6" stroke="#4a8fd4" stroke-width="5" stroke-opacity="0.13"/>
<path d="M594.4 53Q541.3 144.8 450.1 198.9" stroke="#4a8fd4" stroke-width="4" stroke-opacity="0.11"/>
<path d="M594.4 53Q579.1 135.7 512.5 187" stroke="#4a8fd4" stroke-width="5" stroke-opacity="0.14"/>
<path d="M580.8 198.9Q565.7 123.9 594.4 53" stroke="#4a8fd4" stroke-width="1" stroke-opacity="0.07"/>
<path d="M517.6 293.4Q514.4 159.9 594.4 53" stroke="#5fb654" stroke-width="2" stroke-opacity="0.13"/>
<path d="M594.4 53Q636.8 178.1 617.5 308.7" stroke="#4a8fd4" stroke-width="1" stroke-opacity="0.12"/>
<path d="M594.4 53Q555.5 195.6 447 295.9" stroke="#4a8fd4" stroke-width="1.5" stroke-opacity="0.08"/>
<path d="M594.4 53Q552.4 248.9 425.2 403.6" stroke="#4a8fd4" stroke-width="5" stroke-opacity="0.16"/>
<path d="M659.3 359Q589 214 594.4 53" stroke="#5fb654" stroke-width="5" stroke-opacity="0.10"/>
<path d="M594.4 53Q520 249.9 361.9 388.8" stroke="#4a8fd4" stroke-width="5" stroke-opacity="0.14"/>
<path d="M594.4 53Q568.8 274.9 434 453" stroke="#4a8fd4" stroke-width="2" stroke-opacity="0.09"/>
<path d="M504.9 484.9Q509.3 260.6 594.4 53" stroke="#5fb654" stroke-width="1.5" stroke-opacity="0.16"/>
<path d="M133.1 445Q336.8 217.3 594.4 53" stroke="#9555ae" stroke-width="3" stroke-opacity="0.11"/>
<path d="M419.6 97.4Q422.6 76.7 439 63.8" stroke="#4a8fd4" stroke-width="1.5" stroke-opacity="0.12"/>
<path d="M543.7 94.2Q482 109.4 419.6 97.4" stroke="#4a8fd4" stroke-width="5" stroke-opacity="0.10"/>
<path d="M645.9 81.7Q534.8 119.5 419.6 97.4" stroke="#4a8fd4" stroke-width="3" stroke-opacity="0.14"/>
<path d="M392.4 164.8Q396 127.1 419.6 97.4" stroke="#4a8fd4" stroke-width="6" stroke-opacity="0.09"/>
<path d="M373.2 125.5Q394.7 108.6 419.6 97.4" stroke="#4a8fd4" stroke-width="5" stroke-opacity="0.15"/>
<path d="M471.6 133.3Q438.5 125.7 419.6 97.4" stroke="#4a8fd4" stroke-width="6" stroke-opacity="0.11"/>
<path d="M648.6 123Q530.4 143.4 419.6 97.4" stroke="#4a8fd4" stroke-width="3" stroke-opacity="0.15"/>
<path d="M419.6 97.4Q502.8 102.6 576.3 142" stroke="#4a8fd4" stroke-width="6" stroke-opacity="0.10"/>
<path d="M655.7 163.6Q533.6 144.9 419.6 97.4" stroke="#4a8fd4" stroke-width="5" stroke-opacity="0.13"/>
<path d="M450.1 198.9Q426.1 150.8 419.6 97.4" stroke="#4a8fd4" stroke-width="5" stroke-opacity="0.11"/>
<path d="M419.6 97.4Q472.5 135.5 512.5 187" stroke="#4a8fd4" stroke-width="5" stroke-opacity="0.12"/>
<path d="M517.6 293.4Q451.2 204.1 419.6 97.4" stroke="#5fb654" stroke-width="2" stroke-opacity="0.17"/>
<path d="M419.6 97.4Q453.5 193.9 447 295.9" stroke="#4a8fd4" stroke-width="6" stroke-opacity="0.16"/>
<path d="M371.9 340.2Q363.6 212.5 419.6 97.4" stroke="#5fb654" stroke-width="3" stroke-opacity="0.12"/>
<path d="M419.6 97.4Q463 224.6 442.2 357.4" stroke="#4a8fd4" stroke-width="6" stroke-opacity="0.14"/>
<path d="M419.6 97.4Q542.7 216.5 602.9 376.8" stroke="#4a8fd4" stroke-width="2" stroke-opacity="0.08"/>
<path d="M419.6 97.4Q578.3 244 665 442" stroke="#4a8fd4" stroke-width="1" stroke-opacity="0.09"/>
<path d="M419.6 97.4Q322.7 266.1 192.5 410.5" stroke="#4a8fd4" stroke-width="3" stroke-opacity="0.15"/>
<path d="M214.7 455.1Q251 238.3 419.6 97.4" stroke="#9555ae" stroke-width="5" stroke-opacity="0.09"/>
<path d="M133.1 445Q207.1 214.2 419.6 97.4" stroke="#9555ae" stroke-width="1" stroke-opacity="0.11"/>
<path d="M439 63.8Q493.2 72.7 543.7 94.2" stroke="#4a8fd4" stroke-width="5" stroke-opacity="0.07"/>
<path d="M645.9 81.7Q541.1 88 439 63.8" stroke="#4a8fd4" stroke-width="3" stroke-opacity="0.11"/>
<path d="M439 63.8Q429.6 120.7 392.4 164.8" stroke="#4a8fd4" stroke-width="2" stroke-opacity="0.11"/>
<path d="M373.2 125.5Q398.8 86.9 439 63.8" stroke="#4a8fd4" stroke-width="2" stroke-opacity="0.12"/>
<path d="M439 63.8Q460.2 96.2 471.6 133.3" stroke="#4a8fd4" stroke-width="1.5" stroke-opacity="0.07"/>
<path d="M439 63.8Q513 93.5 576.3 142" stroke="#4a8fd4" stroke-width="5" stroke-opacity="0.14"/>
<path d="M655.7 163.6Q538 133.9 439 63.8" stroke="#4a8fd4" stroke-width="4" stroke-opacity="0.08"/>
<path d="M439 63.8Q470.6 129.2 450.1 198.9" stroke="#4a8fd4" stroke-width="1.5" stroke-opacity="0.15"/>
<path d="M439 63.8Q486.9 118.7 512.5 187" stroke="#4a8fd4" stroke-width="5" stroke-opacity="0.07"/>
<path d="M580.8 198.9Q490.1 152.2 439 63.8" stroke="#4a8fd4" stroke-width="1" stroke-opacity="0.11"/>
<path d="M439 63.8Q502.2 170.4 517.6 293.4" stroke="#4a8fd4" stroke-width="6" stroke-opacity="0.16"/>
<path d="M447 295.9Q426.9 180.4 439 63.8" stroke="#5fb654" stroke-width="4" stroke-opacity="0.17"/>
<path d="M602.9 376.8Q491.5 235.7 439 63.8" stroke="#5fb654" stroke-width="1" stroke-opacity="0.15"/>
<path d="M439 63.8Q556.8 186.6 567.2 356.5" stroke="#4a8fd4" stroke-width="1.5" stroke-opacity="0.07"/>
<path d="M439 63.8Q584.8 206.9 654.2 399.1" stroke="#4a8fd4" stroke-width="3" stroke-opacity="0.12"/>
<path d="M439 63.8Q507.2 211.9 504.3 375" stroke="#4a8fd4" stroke-width="3" stroke-opacity="0.13"/>
<path d="M439 63.8Q531.7 235.5 545.5 430.1" stroke="#4a8fd4" stroke-width="2" stroke-opacity="0.14"/>
<path d="M357.6 446Q346.2 243.8 439 63.8" stroke="#5fb654" stroke-width="1" stroke-opacity="0.09"/>
<path d="M439 63.8Q565.5 258.5 596.2 488.6" stroke="#4a8fd4" stroke-width="2" stroke-opacity="0.14"/>
<path d="M645.9 81.7Q596.3 100.4 543.7 94.2" stroke="#4a8fd4" stroke-width="3" stroke-opacity="0.12"/>
<path d="M543.7 94.2Q463.6 138 373.2 125.5" stroke="#4a8fd4" stroke-width="2" stroke-opacity="0.08"/>
<path d="M543.7 94.2Q514.2 125.8 471.6 133.3" stroke="#4a8fd4" stroke-width="3" stroke-opacity="0.14"/>
<path d="M648.6 123Q592.8 120.6 543.7 94.2" stroke="#4a8fd4" stroke-width="2" stroke-opacity="0.10"/>
<path d="M543.7 94.2Q567.3 113.1 576.3 142" stroke="#4a8fd4" stroke-width="2" stroke-opacity="0.10"/>
<path d="M655.7 163.6Q588.2 147.5 543.7 94.2" stroke="#4a8fd4" stroke-width="4" stroke-opacity="0.14"/>
<path d="M450.1 198.9Q488.8 139.3 543.7 94.2" stroke="#4a8fd4" stroke-width="1.5" stroke-opacity="0.09"/>
<path d="M543.7 94.2Q539.7 144.5 512.5 187" stroke="#4a8fd4" stroke-width="5" stroke-opacity="0.15"/>
<path d="M580.8 198.9Q553.4 149.7 543.7 94.2" stroke="#4a8fd4" stroke-width="2" stroke-opacity="0.15"/>
<path d="M517.6 293.4Q518 192.1 543.7 94.2" stroke="#5fb654" stroke-width="3" stroke-opacity="0.16"/>
<path d="M543.7 94.2Q534.8 268.2 425.2 403.6" stroke="#4a8fd4" stroke-width="2" stroke-opacity="0.16"/>
<path d="M543.7 94.2Q620.2 225.7 602.9 376.8" stroke="#4a8fd4" stroke-width="1.5" stroke-opacity="0.11"/>
<path d="M567.2 356.5Q516.3 228.9 543.7 94.2" stroke="#5fb654" stroke-width="5" stroke-opacity="0.10"/>
<path d="M654.2 399.1Q558.4 261.3 543.7 94.2" stroke="#5fb654" stroke-width="6" stroke-opacity="0.12"/>
<path d="M357.6 446Q386.4 236.1 543.7 94.2" stroke="#5fb654" stroke-width="2" stroke-opacity="0.16"/>
<path d="M543.7 94.2Q598.4 287.6 596.2 488.6" stroke="#4a8fd4" stroke-width="3" stroke-opacity="0.14"/>
<path d="M543.7 94.2Q349 282 133.1 445" stroke="#4a8fd4" stroke-width="3" stroke-opacity="0.11"/>
<path d="M392.4 164.8Q506.3 84 645.9 81.7" stroke="#4a8fd4" stroke-width="6" stroke-opacity="0.12"/>
<path d="M373.2 125.5Q505.8 80 645.9 81.7" stroke="#4a8fd4" stroke-width="2" stroke-opacity="0.11"/>
<path d="M648.6 123Q639.2 102.9 645.9 81.7" stroke="#4a8fd4" stroke-width="2" stroke-opacity="0.12"/>
<path d="M576.3 142Q606.1 106 645.9 81.7" stroke="#4a8fd4" stroke-width="2" stroke-opacity="0.16"/>
<path d="M645.9 81.7Q663.6 121.1 655.7 163.6" stroke="#4a8fd4" stroke-width="3" stroke-opacity="0.08"/>
<path d="M645.9 81.7Q566.4 171 450.1 198.9" stroke="#4a8fd4" stroke-width="2" stroke-opacity="0.07"/>
<path d="M512.5 187Q562.4 113.1 645.9 81.7" stroke="#4a8fd4" stroke-width="3" stroke-opacity="0.08"/>
<path d="M645.9 81.7Q632.9 151.1 580.8 198.9" stroke="#4a8fd4" stroke-width="1.5" stroke-opacity="0.12"/>
<path d="M517.6 293.4Q544.2 164.8 645.9 81.7" stroke="#5fb654" stroke-width="6" stroke-opacity="0.17"/>
<path d="M421.8 323.9Q512.3 182.9 645.9 81.7" stroke="#5fb654" stroke-width="1" stroke-opacity="0.11"/>
<path d="M645.9 81.7Q568.6 209.3 447 295.9" stroke="#4a8fd4" stroke-width="2" stroke-opacity="0.08"/>
<path d="M645.9 81.7Q530.5 233.8 371.9 340.2" stroke="#4a8fd4" stroke-width="6" stroke-opacity="0.11"/>
<path d="M645.9 81.7Q587.2 278.1 425.2 403.6" stroke="#4a8fd4" stroke-width="4" stroke-opacity="0.08"/>
<path d="M645.9 81.7Q653.2 232.5 567.2 356.5" stroke="#4a8fd4" stroke-width="3" stroke-opacity="0.12"/>
<path d="M645.9 81.7Q697 239.2 654.2 399.1" stroke="#4a8fd4" stroke-width="1" stroke-opacity="0.13"/>
<path d="M645.9 81.7Q523.4 253.3 361.9 388.8" stroke="#4a8fd4" stroke-width="1.5" stroke-opacity="0.14"/>
<path d="M645.9 81.7Q647.7 270.9 545.5 430.1" stroke="#4a8fd4" stroke-width="3" stroke-opacity="0.09"/>
<path d="M434 453Q500.7 244.9 645.9 81.7" stroke="#5fb654" stroke-width="2" stroke-opacity="0.14"/>
<path d="M665 442Q627 263.4 645.9 81.7" stroke="#5fb654" stroke-width="3" stroke-opacity="0.09"/>
<path d="M192.5 410.5Q356 158.9 645.9 81.7" stroke="#9555ae" stroke-width="3" stroke-opacity="0.16"/>
<path d="M135.2 495.9Q357.5 248 645.9 81.7" stroke="#9555ae" stroke-width="6" stroke-opacity="0.13"/>
<path d="M373.2 125.5Q385.4 143.9 392.4 164.8" stroke="#4a8fd4" stroke-width="5" stroke-opacity="0.08"/>
<path d="M392.4 164.8Q426.4 135 471.6 133.3" stroke="#4a8fd4" stroke-width="4" stroke-opacity="0.07"/>
<path d="M648.6 123Q523.4 161.9 392.4 164.8" stroke="#4a8fd4" stroke-width="5" stroke-opacity="0.08"/>
<path d="M576.3 142Q485.7 164.7 392.4 164.8" stroke="#4a8fd4" stroke-width="4" stroke-opacity="0.08"/>
<path d="M450.1 198.9Q417.1 188.9 392.4 164.8" stroke="#4a8fd4" stroke-width="5" stroke-opacity="0.10"/>
<path d="M392.4 164.8Q455.5 159.6 512.5 187" stroke="#4a8fd4" stroke-width="2" stroke-opacity="0.11"/>
<path d="M392.4 164.8Q493.2 145.2 580.8 198.9" stroke="#4a8fd4" stroke-width="2" stroke-opacity="0.16"/>
<path d="M421.8 323.9Q385 248.4 392.4 164.8" stroke="#5fb654" stroke-width="6" stroke-opacity="0.14"/>
<path d="M510.2 331.9Q433.2 261.1 392.4 164.8" stroke="#5fb654" stroke-width="1.5" stroke-opacity="0.10"/>
<path d="M392.4 164.8Q428 281.6 425.2 403.6" stroke="#4a8fd4" stroke-width="4" stroke-opacity="0.14"/>
<path d="M392.4 164.8Q541.1 262.1 654.2 399.1" stroke="#4a8fd4" stroke-width="4" stroke-opacity="0.11"/>
<path d="M659.3 359Q508.2 286.2 392.4 164.8" stroke="#5fb654" stroke-width="5" stroke-opacity="0.14"/>
<path d="M545.5 430.1Q436 316.5 392.4 164.8" stroke="#5fb654" stroke-width="4" stroke-opacity="0.09"/>
<path d="M38 456Q166.9 251.6 392.4 164.8" stroke="#9555ae" stroke-width="5" stroke-opacity="0.14"/>
<path d="M392.4 164.8Q310.4 314.1 214.7 455.1" stroke="#4a8fd4" stroke-width="5" stroke-opacity="0.08"/>
<path d="M392.4 164.8Q271.2 336.1 135.2 495.9" stroke="#4a8fd4" stroke-width="6" stroke-opacity="0.12"/>
<path d="M373.2 125.5Q423.5 115.3 471.6 133.3" stroke="#4a8fd4" stroke-width="1" stroke-opacity="0.07"/>
<path d="M373.2 125.5Q510.4 73.5 648.6 123" stroke="#4a8fd4" stroke-width="2" stroke-opacity="0.11"/>
<path d="M576.3 142Q471.7 170.7 373.2 125.5" stroke="#4a8fd4" stroke-width="1.5" stroke-opacity="0.15"/>
<path d="M655.7 163.6Q508.2 190.6 373.2 125.5" stroke="#4a8fd4" stroke-width="4" stroke-opacity="0.14"/>
<path d="M373.2 125.5Q423.6 149.6 450.1 198.9" stroke="#4a8fd4" stroke-width="2" stroke-opacity="0.10"/>
<path d="M373.2 125.5Q487 133.8 580.8 198.9" stroke="#4a8fd4" stroke-width="4" stroke-opacity="0.08"/>
<path d="M617.5 308.7Q479.4 238.4 373.2 125.5" stroke="#5fb654" stroke-width="2" stroke-opacity="0.10"/>
<path d="M373.2 125.5Q393.2 233 371.9 340.2" stroke="#4a8fd4" stroke-width="1" stroke-opacity="0.08"/>
<path d="M425.2 403.6Q359.6 272 373.2 125.5" stroke="#5fb654" stroke-width="3" stroke-opacity="0.15"/>
<path d="M442.2 357.4Q393.3 245.7 373.2 125.5" stroke="#5fb654" stroke-width="2" stroke-opacity="0.16"/>
<path d="M373.2 125.5Q504.2 236.4 602.9 376.8" stroke="#4a8fd4" stroke-width="5" stroke-opacity="0.12"/>
<path d="M654.2 399.1Q479.1 297.9 373.2 125.5" stroke="#5fb654" stroke-width="6" stroke-opacity="0.11"/>
<path d="M659.3 359Q470.9 297.8 373.2 125.5" stroke="#5fb654" stroke-width="3" stroke-opacity="0.09"/>
<path d="M373.2 125.5Q405.1 258.8 361.9 388.8" stroke="#4a8fd4" stroke-width="2" stroke-opacity="0.16"/>
<path d="M373.2 125.5Q491.8 259.5 545.5 430.1" stroke="#4a8fd4" stroke-width="3" stroke-opacity="0.14"/>
<path d="M373.2 125.5Q424.2 285.4 434 453" stroke="#4a8fd4" stroke-width="4" stroke-opacity="0.10"/>
<path d="M373.2 125.5Q520.4 285.1 596.2 488.6" stroke="#4a8fd4" stroke-width="1.5" stroke-opacity="0.10"/>
<path d="M648.6 123Q561.8 158 471.6 133.3" stroke="#4a8fd4" stroke-width="1.5" stroke-opacity="0.15"/>
<path d="M576.3 142Q522.5 155.6 471.6 133.3" stroke="#4a8fd4" stroke-width="4" stroke-opacity="0.14"/>
<path d="M655.7 163.6Q560.5 167.3 471.6 133.3" stroke="#4a8fd4" stroke-width="2" stroke-opacity="0.13"/>
<path d="M450.1 198.9Q451.9 163.2 471.6 133.3" stroke="#4a8fd4" stroke-width="2" stroke-opacity="0.10"/>
<path d="M471.6 133.3Q501.9 152.6 512.5 187" stroke="#4a8fd4" stroke-width="4" stroke-opacity="0.13"/>
<path d="M580.8 198.9Q513.1 187.9 471.6 133.3" stroke="#4a8fd4" stroke-width="2" stroke-opacity="0.14"/>
<path d="M471.6 133.3Q513.1 208 517.6 293.4" stroke="#4a8fd4" stroke-width="4" stroke-opacity="0.11"/>
<path d="M510.2 331.9Q463.7 237.9 471.6 133.3" stroke="#5fb654" stroke-width="2" stroke-opacity="0.14"/>
<path d="M425.2 403.6Q410 261.9 471.6 133.3" stroke="#5fb654" stroke-width="6" stroke-opacity="0.16"/>
<path d="M471.6 133.3Q494.6 250.3 442.2 357.4" stroke="#4a8fd4" stroke-width="4" stroke-opacity="0.11"/>
<path d="M471.6 133.3Q588.4 248.7 654.2 399.1" stroke="#4a8fd4" stroke-width="1.5" stroke-opacity="0.10"/>
<path d="M471.6 133.3Q579.6 234.4 659.3 359" stroke="#4a8fd4" stroke-width="2" stroke-opacity="0.09"/>
<path d="M471.6 133.3Q519.4 249.9 504.3 375" stroke="#4a8fd4" stroke-width="6" stroke-opacity="0.10"/>
<path d="M471.6 133.3Q453.6 276.9 361.9 388.8" stroke="#4a8fd4" stroke-width="1" stroke-opacity="0.17"/>
<path d="M545.5 430.1Q485.1 287.5 471.6 133.3" stroke="#5fb654" stroke-width="6" stroke-opacity="0.10"/>
<path d="M471.6 133.3Q473.8 311.2 357.6 446" stroke="#4a8fd4" stroke-width="1" stroke-opacity="0.13"/>
<path d="M471.6 133.3Q502.9 309.8 452.8 481.9" stroke="#4a8fd4" stroke-width="1" stroke-opacity="0.13"/>
<path d="M471.6 133.3Q590.6 273.7 665 442" stroke="#4a8fd4" stroke-width="3" stroke-opacity="0.15"/>
<path d="M135.2 495.9Q250.5 265.5 471.6 133.3" stroke="#9555ae" stroke-width="3" stroke-opacity="0.08"/>
<path d="M648.6 123Q615 142.2 576.3 142" stroke="#4a8fd4" stroke-width="2" stroke-opacity="0.09"/>
<path d="M648.6 123Q657.6 142.3 655.7 163.6" stroke="#4a8fd4" stroke-width="4" stroke-opacity="0.11"/>
<path d="M450.1 198.9Q538.2 131.8 648.6 123" stroke="#4a8fd4" stroke-width="4" stroke-opacity="0.09"/>
<path d="M648.6 123Q587.2 169.1 512.5 187" stroke="#4a8fd4" stroke-width="1" stroke-opacity="0.14"/>
<path d="M580.8 198.9Q606.3 153.5 648.6 123" stroke="#4a8fd4" stroke-width="6" stroke-opacity="0.12"/>
<path d="M648.6 123Q661.2 220.6 617.5 308.7" stroke="#4a8fd4" stroke-width="5" stroke-opacity="0.12"/>
<path d="M447 295.9Q513.7 169.7 648.6 123" stroke="#5fb654" stroke-width="2" stroke-opacity="0.11"/>
<path d="M648.6 123Q560.9 282.4 425.2 403.6" stroke="#4a8fd4" stroke-width="2" stroke-opacity="0.13"/>
<path d="M648.6 123Q671.4 258.1 602.9 376.8" stroke="#4a8fd4" stroke-width="1.5" stroke-opacity="0.16"/>
<path d="M659.3 359Q623.3 242.4 648.6 123" stroke="#5fb654" stroke-width="4" stroke-opacity="0.17"/>
<path d="M361.9 388.8Q459.9 207 648.6 123" stroke="#5fb654" stroke-width="4" stroke-opacity="0.09"/>
<path d="M545.5 430.1Q550.9 261 648.6 123" stroke="#5fb654" stroke-width="1" stroke-opacity="0.08"/>
<path d="M434 453Q504.1 263.8 648.6 123" stroke="#5fb654" stroke-width="3" stroke-opacity="0.16"/>
<path d="M648.6 123Q662.5 311.5 596.2 488.6" stroke="#4a8fd4" stroke-width="3" stroke-opacity="0.09"/>
<path d="M576.3 142Q617.7 146.5 655.7 163.6" stroke="#4a8fd4" stroke-width="3" stroke-opacity="0.16"/>
<path d="M576.3 142Q523.7 193.8 450.1 198.9" stroke="#4a8fd4" stroke-width="1" stroke-opacity="0.11"/>
<path d="M512.5 187Q541.4 160.2 576.3 142" stroke="#4a8fd4" stroke-width="6" stroke-opacity="0.09"/>
<path d="M580.8 198.9Q569 171.2 576.3 142" stroke="#4a8fd4" stroke-width="4" stroke-opacity="0.07"/>
<path d="M421.8 323.9Q484.3 220.4 576.3 142" stroke="#5fb654" stroke-width="1" stroke-opacity="0.15"/>
<path d="M576.3 142Q557.2 241.8 510.2 331.9" stroke="#4a8fd4" stroke-width="5" stroke-opacity="0.14"/>
<path d="M371.9 340.2Q444.4 210.5 576.3 142" stroke="#5fb654" stroke-width="1" stroke-opacity="0.11"/>
<path d="M576.3 142Q528.2 261.5 442.2 357.4" stroke="#4a8fd4" stroke-width="1" stroke-opacity="0.13"/>
<path d="M576.3 142Q597.5 250.3 567.2 356.5" stroke="#4a8fd4" stroke-width="6" stroke-opacity="0.09"/>
<path d="M576.3 142Q634.6 264.7 654.2 399.1" stroke="#4a8fd4" stroke-width="3" stroke-opacity="0.08"/>
<path d="M576.3 142Q608 291.1 545.5 430.1" stroke="#4a8fd4" stroke-width="5" stroke-opacity="0.08"/>
<path d="M576.3 142Q538.6 320.7 452.8 481.9" stroke="#4a8fd4" stroke-width="4" stroke-opacity="0.17"/>
<path d="M576.3 142Q620.1 313.4 596.2 488.6" stroke="#4a8fd4" stroke-width="1.5" stroke-opacity="0.07"/>
<path d="M192.5 410.5Q358.2 238.9 576.3 142" stroke="#9555ae" stroke-width="5" stroke-opacity="0.17"/>
<path d="M214.7 455.1Q346.5 241.9 576.3 142" stroke="#9555ae" stroke-width="2" stroke-opacity="0.12"/>
<path d="M655.7 163.6Q556.9 204.6 450.1 198.9" stroke="#4a8fd4" stroke-width="4" stroke-opacity="0.12"/>
<path d="M512.5 187Q579.8 148.7 655.7 163.6" stroke="#4a8fd4" stroke-width="5" stroke-opacity="0.14"/>
<path d="M655.7 163.6Q624 193.4 580.8 198.9" stroke="#4a8fd4" stroke-width="3" stroke-opacity="0.13"/>
<path d="M447 295.9Q542.5 215.8 655.7 163.6" stroke="#5fb654" stroke-width="1" stroke-opacity="0.16"/>
<path d="M371.9 340.2Q491.9 216.8 655.7 163.6" stroke="#5fb654" stroke-width="5" stroke-opacity="0.14"/>
<path d="M655.7 163.6Q689.8 281.6 654.2 399.1" stroke="#4a8fd4" stroke-width="3" stroke-opacity="0.09"/>
<path d="M504.3 375Q559.4 254.6 655.7 163.6" stroke="#5fb654" stroke-width="3" stroke-opacity="0.17"/>
<path d="M357.6 446Q459.4 255 655.7 163.6" stroke="#5fb654" stroke-width="2" stroke-opacity="0.16"/>
<path d="M452.8 481.9Q513.9 297 655.7 163.6" stroke="#5fb654" stroke-width="3" stroke-opacity="0.12"/>
<path d="M655.7 163.6Q570.5 328 434 453" stroke="#4a8fd4" stroke-width="5" stroke-opacity="0.11"/>
<path d="M655.7 163.6Q702.8 301.4 665 442" stroke="#4a8fd4" stroke-width="1.5" stroke-opacity="0.09"/>
<path d="M504.9 484.9Q544.7 307.6 655.7 163.6" stroke="#5fb654" stroke-width="1" stroke-opacity="0.10"/>
<path d="M450.1 198.9Q480.1 186.7 512.5 187" stroke="#4a8fd4" stroke-width="1.5" stroke-opacity="0.09"/>
<path d="M450.1 198.9Q515.5 187.9 580.8 198.9" stroke="#4a8fd4" stroke-width="6" stroke-opacity="0.14"/>
<path d="M450.1 198.9Q544 238.2 617.5 308.7" stroke="#4a8fd4" stroke-width="4" stroke-opacity="0.12"/>
<path d="M450.1 198.9Q453.2 265.3 421.8 323.9" stroke="#4a8fd4" stroke-width="3" stroke-opacity="0.10"/>
<path d="M450.1 198.9Q464.1 247.9 447 295.9" stroke="#4a8fd4" stroke-width="6" stroke-opacity="0.09"/>
<path d="M450.1 198.9Q496.3 258.1 510.2 331.9" stroke="#4a8fd4" stroke-width="2" stroke-opacity="0.10"/>
<path d="M450.1 198.9Q463.9 279 442.2 357.4" stroke="#4a8fd4" stroke-width="2" stroke-opacity="0.13"/>
<path d="M450.1 198.9Q555.9 262.6 602.9 376.8" stroke="#4a8fd4" stroke-width="3" stroke-opacity="0.07"/>
<path d="M450.1 198.9Q503 279 504.3 375" stroke="#4a8fd4" stroke-width="6" stroke-opacity="0.08"/>
<path d="M450.1 198.9Q486.1 340.1 452.8 481.9" stroke="#4a8fd4" stroke-width="1" stroke-opacity="0.08"/>
<path d="M450.1 198.9Q477.3 328.2 434 453" stroke="#4a8fd4" stroke-width="1" stroke-opacity="0.08"/>
<path d="M192.5 410.5Q293.4 270.8 450.1 198.9" stroke="#9555ae" stroke-width="3" stroke-opacity="0.12"/>
<path d="M580.8 198.9Q544.7 204.4 512.5 187" stroke="#4a8fd4" stroke-width="4" stroke-opacity="0.14"/>
<path d="M512.5 187Q521.7 239.9 517.6 293.4" stroke="#4a8fd4" stroke-width="1" stroke-opacity="0.13"/>
<path d="M512.5 187Q493.6 249.8 447 295.9" stroke="#4a8fd4" stroke-width="2" stroke-opacity="0.14"/>
<path d="M510.2 331.9Q499.8 259.3 512.5 187" stroke="#5fb654" stroke-width="3" stroke-opacity="0.15"/>
<path d="M425.2 403.6Q440.1 283.7 512.5 187" stroke="#5fb654" stroke-width="3" stroke-opacity="0.10"/>
<path d="M442.2 357.4Q465.1 267.1 512.5 187" stroke="#5fb654" stroke-width="2" stroke-opacity="0.12"/>
<path d="M602.9 376.8Q532.7 293.8 512.5 187" stroke="#5fb654" stroke-width="2" stroke-opacity="0.13"/>
<path d="M512.5 187Q621.5 267.6 654.2 399.1" stroke="#4a8fd4" stroke-width="3" stroke-opacity="0.15"/>
<path d="M512.5 187Q611.9 250.8 659.3 359" stroke="#4a8fd4" stroke-width="1" stroke-opacity="0.09"/>
<path d="M357.6 446Q386.2 287.3 512.5 187" stroke="#5fb654" stroke-width="3" stroke-opacity="0.09"/>
<path d="M512.5 187Q524.6 335.2 434 453" stroke="#4a8fd4" stroke-width="5" stroke-opacity="0.08"/>
<path d="M512.5 187Q556.2 337.2 504.9 484.9" stroke="#4a8fd4" stroke-width="4" stroke-opacity="0.10"/>
<path d="M133.1 445Q276.2 247.4 512.5 187" stroke="#9555ae" stroke-width="1" stroke-opacity="0.07"/>
<path d="M517.6 293.4Q534 236 580.8 198.9" stroke="#5fb654" stroke-width="1.5" stroke-opacity="0.07"/>
<path d="M580.8 198.9Q518.2 282.8 421.8 323.9" stroke="#4a8fd4" stroke-width="2" stroke-opacity="0.15"/>
<path d="M447 295.9Q501.8 230.6 580.8 198.9" stroke="#5fb654" stroke-width="2" stroke-opacity="0.12"/>
<path d="M580.8 198.9Q565.7 276.1 510.2 331.9" stroke="#4a8fd4" stroke-width="1" stroke-opacity="0.11"/>
<path d="M371.9 340.2Q466.8 255.4 580.8 198.9" stroke="#5fb654" stroke-width="3" stroke-opacity="0.09"/>
<path d="M442.2 357.4Q482.6 252.9 580.8 198.9" stroke="#5fb654" stroke-width="2" stroke-opacity="0.15"/>
<path d="M580.8 198.9Q633.1 272.6 659.3 359" stroke="#4a8fd4" stroke-width="5" stroke-opacity="0.15"/>
<path d="M580.8 198.9Q586.4 318.1 545.5 430.1" stroke="#4a8fd4" stroke-width="3" stroke-opacity="0.09"/>
<path d="M580.8 198.9Q546.8 348.7 434 453" stroke="#4a8fd4" stroke-width="1.5" stroke-opacity="0.11"/>
<path d="M665 442Q601.2 328 580.8 198.9" stroke="#5fb654" stroke-width="1" stroke-opacity="0.14"/>
<path d="M86 394.8Q308 232.8 580.8 198.9" stroke="#9555ae" stroke-width="1" stroke-opacity="0.15"/>
<path d="M38 456Q274.5 253.8 580.8 198.9" stroke="#9555ae" stroke-width="2" stroke-opacity="0.13"/>
<path d="M214.7 455.1Q354.9 265.8 580.8 198.9" stroke="#9555ae" stroke-width="2" stroke-opacity="0.15"/>
<path d="M617.5 308.7Q565.9 311.9 517.6 293.4" stroke="#5fb654" stroke-width="1.5" stroke-opacity="0.24"/>
<path d="M517.6 293.4Q482.6 303.6 447 295.9" stroke="#5fb654" stroke-width="4" stroke-opacity="0.16"/>
<path d="M517.6 293.4Q517.8 313.4 510.2 331.9" stroke="#5fb654" stroke-width="1.5" stroke-opacity="0.21"/>
<path d="M371.9 340.2Q441.2 305.8 517.6 293.4" stroke="#5fb654" stroke-width="1.5" stroke-opacity="0.21"/>
<path d="M517.6 293.4Q485.9 360.7 425.2 403.6" stroke="#5fb654" stroke-width="1" stroke-opacity="0.12"/>
<path d="M442.2 357.4Q468.6 312 517.6 293.4" stroke="#5fb654" stroke-width="2" stroke-opacity="0.17"/>
<path d="M602.9 376.8Q547.5 348.1 517.6 293.4" stroke="#5fb654" stroke-width="2" stroke-opacity="0.16"/>
<path d="M517.6 293.4Q548.5 320.2 567.2 356.5" stroke="#5fb654" stroke-width="6" stroke-opacity="0.16"/>
<path d="M517.6 293.4Q600.2 327.8 654.2 399.1" stroke="#5fb654" stroke-width="2" stroke-opacity="0.18"/>
<path d="M517.6 293.4Q592.8 316.9 659.3 359" stroke="#5fb654" stroke-width="2" stroke-opacity="0.19"/>
<path d="M504.3 375Q503.7 333 517.6 293.4" stroke="#5fb654" stroke-width="3" stroke-opacity="0.17"/>
<path d="M517.6 293.4Q445.7 350.8 361.9 388.8" stroke="#5fb654" stroke-width="2" stroke-opacity="0.23"/>
<path d="M357.6 446Q423.5 355 517.6 293.4" stroke="#5fb654" stroke-width="2" stroke-opacity="0.20"/>
<path d="M517.6 293.4Q507.7 395.4 452.8 481.9" stroke="#5fb654" stroke-width="3" stroke-opacity="0.24"/>
<path d="M517.6 293.4Q498.3 385 434 453" stroke="#5fb654" stroke-width="1.5" stroke-opacity="0.13"/>
<path d="M665 442Q580.9 378.1 517.6 293.4" stroke="#5fb654" stroke-width="1" stroke-opacity="0.22"/>
<path d="M517.6 293.4Q541.3 391.1 504.9 484.9" stroke="#5fb654" stroke-width="2" stroke-opacity="0.19"/>
<path d="M517.6 293.4Q336 412.7 135.2 495.9" stroke="#5fb654" stroke-width="3" stroke-opacity="0.15"/>
<path d="M133.1 445Q308.9 327.6 517.6 293.4" stroke="#9555ae" stroke-width="1.5" stroke-opacity="0.09"/>
<path d="M617.5 308.7Q522.1 347.5 421.8 323.9" stroke="#5fb654" stroke-width="2" stroke-opacity="0.20"/>
<path d="M617.5 308.7Q530.5 325.1 447 295.9" stroke="#5fb654" stroke-width="6" stroke-opacity="0.12"/>
<path d="M617.5 308.7Q567.3 336.1 510.2 331.9" stroke="#5fb654" stroke-width="1.5" stroke-opacity="0.14"/>
<path d="M617.5 308.7Q537.7 389.3 425.2 403.6" stroke="#5fb654" stroke-width="4" stroke-opacity="0.19"/>
<path d="M442.2 357.4Q521.3 302.2 617.5 308.7" stroke="#5fb654" stroke-width="6" stroke-opacity="0.14"/>
<path d="M654.2 399.1Q620 360.3 617.5 308.7" stroke="#5fb654" stroke-width="2" stroke-opacity="0.17"/>
<path d="M659.3 359Q631.2 339.8 617.5 308.7" stroke="#5fb654" stroke-width="3" stroke-opacity="0.21"/>
<path d="M504.3 375Q549.6 322.6 617.5 308.7" stroke="#5fb654" stroke-width="1.5" stroke-opacity="0.24"/>
<path d="M361.9 388.8Q478.3 312.4 617.5 308.7" stroke="#5fb654" stroke-width="2" stroke-opacity="0.15"/>
<path d="M545.5 430.1Q560.9 357.2 617.5 308.7" stroke="#5fb654" stroke-width="1" stroke-opacity="0.17"/>
<path d="M357.6 446Q471.5 347 617.5 308.7" stroke="#5fb654" stroke-width="4" stroke-opacity="0.22"/>
<path d="M452.8 481.9Q502.8 364.6 617.5 308.7" stroke="#5fb654" stroke-width="4" stroke-opacity="0.20"/>
<path d="M617.5 308.7Q534.7 392.3 434 453" stroke="#5fb654" stroke-width="3" stroke-opacity="0.18"/>
<path d="M665 442Q627.7 380.2 617.5 308.7" stroke="#5fb654" stroke-width="5" stroke-opacity="0.17"/>
<path d="M504.9 484.9Q529.8 376.7 617.5 308.7" stroke="#5fb654" stroke-width="1.5" stroke-opacity="0.16"/>
<path d="M617.5 308.7Q622.4 400.5 596.2 488.6" stroke="#5fb654" stroke-width="1.5" stroke-opacity="0.24"/>
<path d="M214.7 455.1Q388.9 307.2 617.5 308.7" stroke="#9555ae" stroke-width="1" stroke-opacity="0.11"/>
<path d="M421.8 323.9Q430.3 306.2 447 295.9" stroke="#5fb654" stroke-width="4" stroke-opacity="0.23"/>
<path d="M421.8 323.9Q400 341.8 371.9 340.2" stroke="#5fb654" stroke-width="2" stroke-opacity="0.22"/>
<path d="M421.8 323.9Q431 363.4 425.2 403.6" stroke="#5fb654" stroke-width="2" stroke-opacity="0.13"/>
<path d="M442.2 357.4Q425.4 344.7 421.8 323.9" stroke="#5fb654" stroke-width="4" stroke-opacity="0.20"/>
<path d="M602.9 376.8Q503.6 380.3 421.8 323.9" stroke="#5fb654" stroke-width="5" stroke-opacity="0.14"/>
<path d="M421.8 323.9Q500.8 312 567.2 356.5" stroke="#5fb654" stroke-width="4" stroke-opacity="0.17"/>
<path d="M654.2 399.1Q525 401.8 421.8 323.9" stroke="#5fb654" stroke-width="5" stroke-opacity="0.23"/>
<path d="M659.3 359Q533.6 388.2 421.8 323.9" stroke="#5fb654" stroke-width="6" stroke-opacity="0.16"/>
<path d="M504.3 375Q456.8 359.6 421.8 323.9" stroke="#5fb654" stroke-width="1.5" stroke-opacity="0.19"/>
<path d="M361.9 388.8Q385 350 421.8 323.9" stroke="#5fb654" stroke-width="6" stroke-opacity="0.12"/>
<path d="M545.5 430.1Q468.5 394.6 421.8 323.9" stroke="#5fb654" stroke-width="3" stroke-opacity="0.14"/>
<path d="M421.8 323.9Q407.1 394.1 357.6 446" stroke="#5fb654" stroke-width="5" stroke-opacity="0.14"/>
<path d="M421.8 323.9Q453.3 386 434 453" stroke="#5fb654" stroke-width="1" stroke-opacity="0.17"/>
<path d="M665 442Q520.2 430.7 421.8 323.9" stroke="#5fb654" stroke-width="5" stroke-opacity="0.18"/>
<path d="M504.9 484.9Q440.7 416.1 421.8 323.9" stroke="#5fb654" stroke-width="4" stroke-opacity="0.14"/>
<path d="M38 456Q208.3 327.2 421.8 323.9" stroke="#9555ae" stroke-width="1" stroke-opacity="0.09"/>
<path d="M214.7 455.1Q292.5 348.9 421.8 323.9" stroke="#9555ae" stroke-width="1" stroke-opacity="0.13"/>
<path d="M447 295.9Q482.4 307.3 510.2 331.9" stroke="#5fb654" stroke-width="6" stroke-opacity="0.14"/>
<path d="M447 295.9Q414.1 325.9 371.9 340.2" stroke="#5fb654" stroke-width="3" stroke-opacity="0.16"/>
<path d="M447 295.9Q456.3 353.8 425.2 403.6" stroke="#5fb654" stroke-width="1.5" stroke-opacity="0.14"/>
<path d="M442.2 357.4Q438.2 326.2 447 295.9" stroke="#5fb654" stroke-width="2" stroke-opacity="0.21"/>
<path d="M602.9 376.8Q510.5 364.2 447 295.9" stroke="#5fb654" stroke-width="6" stroke-opacity="0.20"/>
<path d="M447 295.9Q518.5 303.5 567.2 356.5" stroke="#5fb654" stroke-width="5" stroke-opacity="0.16"/>
<path d="M447 295.9Q567.9 312.7 654.2 399.1" stroke="#5fb654" stroke-width="1.5" stroke-opacity="0.15"/>
<path d="M659.3 359Q541.1 368.1 447 295.9" stroke="#5fb654" stroke-width="3" stroke-opacity="0.16"/>
<path d="M447 295.9Q481.5 331.2 504.3 375" stroke="#5fb654" stroke-width="1.5" stroke-opacity="0.23"/>
<path d="M361.9 388.8Q396.7 335.3 447 295.9" stroke="#5fb654" stroke-width="1.5" stroke-opacity="0.23"/>
<path d="M545.5 430.1Q480.8 374.4 447 295.9" stroke="#5fb654" stroke-width="1.5" stroke-opacity="0.21"/>
<path d="M447 295.9Q469.8 388.3 452.8 481.9" stroke="#5fb654" stroke-width="5" stroke-opacity="0.18"/>
<path d="M447 295.9Q583.2 328.4 665 442" stroke="#5fb654" stroke-width="5" stroke-opacity="0.20"/>
<path d="M447 295.9Q489.1 386.4 504.9 484.9" stroke="#5fb654" stroke-width="1.5" stroke-opacity="0.23"/>
<path d="M596.2 488.6Q499.1 409.6 447 295.9" stroke="#5fb654" stroke-width="2" stroke-opacity="0.19"/>
<path d="M447 295.9Q324.9 364.7 192.5 410.5" stroke="#5fb654" stroke-width="1.5" stroke-opacity="0.09"/>
<path d="M425.2 403.6Q454.6 352.2 510.2 331.9" stroke="#5fb654" stroke-width="2" stroke-opacity="0.20"/>
<path d="M442.2 357.4Q472.5 334.8 510.2 331.9" stroke="#5fb654" stroke-width="1.5" stroke-opacity="0.21"/>
<path d="M602.9 376.8Q551.6 364.6 510.2 331.9" stroke="#5fb654" stroke-width="2" stroke-opacity="0.16"/>
<path d="M567.2 356.5Q534.8 353.2 510.2 331.9" stroke="#5fb654" stroke-width="1.5" stroke-opacity="0.16"/>
<path d="M654.2 399.1Q573.9 383.4 510.2 331.9" stroke="#5fb654" stroke-width="4" stroke-opacity="0.15"/>
<path d="M510.2 331.9Q588.6 324.2 659.3 359" stroke="#5fb654" stroke-width="1" stroke-opacity="0.24"/>
<path d="M510.2 331.9Q511.2 354 504.3 375" stroke="#5fb654" stroke-width="6" stroke-opacity="0.13"/>
<path d="M510.2 331.9Q441.3 374 361.9 388.8" stroke="#5fb654" stroke-width="4" stroke-opacity="0.18"/>
<path d="M545.5 430.1Q510.8 387.1 510.2 331.9" stroke="#5fb654" stroke-width="3" stroke-opacity="0.22"/>
<path d="M510.2 331.9Q448.8 408.9 357.6 446" stroke="#5fb654" stroke-width="2" stroke-opacity="0.12"/>
<path d="M510.2 331.9Q502.8 415 452.8 481.9" stroke="#5fb654" stroke-width="3" stroke-opacity="0.21"/>
<path d="M434 453Q450.1 378.6 510.2 331.9" stroke="#5fb654" stroke-width="5" stroke-opacity="0.15"/>
<path d="M38 456Q249.8 301.5 510.2 331.9" stroke="#9555ae" stroke-width="1.5" stroke-opacity="0.11"/>
<path d="M133.1 445Q310.4 350.9 510.2 331.9" stroke="#9555ae" stroke-width="1" stroke-opacity="0.11"/>
<path d="M425.2 403.6Q393 376.6 371.9 340.2" stroke="#5fb654" stroke-width="1" stroke-opacity="0.17"/>
<path d="M371.9 340.2Q409.9 337.1 442.2 357.4" stroke="#5fb654" stroke-width="3" stroke-opacity="0.14"/>
<path d="M567.2 356.5Q466.9 379.8 371.9 340.2" stroke="#5fb654" stroke-width="1" stroke-opacity="0.23"/>
<path d="M371.9 340.2Q523.5 319.7 654.2 399.1" stroke="#5fb654" stroke-width="2" stroke-opacity="0.17"/>
<path d="M659.3 359Q512.8 392.1 371.9 340.2" stroke="#5fb654" stroke-width="3" stroke-opacity="0.19"/>
<path d="M371.9 340.2Q440.4 348.8 504.3 375" stroke="#5fb654" stroke-width="4" stroke-opacity="0.16"/>
<path d="M371.9 340.2Q372.9 365.7 361.9 388.8" stroke="#5fb654" stroke-width="1" stroke-opacity="0.22"/>
<path d="M371.9 340.2Q475.2 353.2 545.5 430.1" stroke="#5fb654" stroke-width="2" stroke-opacity="0.16"/>
<path d="M371.9 340.2Q378.2 394.9 357.6 446" stroke="#5fb654" stroke-width="4" stroke-opacity="0.22"/>
<path d="M371.9 340.2Q413 391.1 434 453" stroke="#5fb654" stroke-width="3" stroke-opacity="0.18"/>
<path d="M371.9 340.2Q538 334.7 665 442" stroke="#5fb654" stroke-width="2" stroke-opacity="0.21"/>
<path d="M596.2 488.6Q456.5 456 371.9 340.2" stroke="#5fb654" stroke-width="5" stroke-opacity="0.14"/>
<path d="M192.5 410.5Q277.7 363.9 371.9 340.2" stroke="#9555ae" stroke-width="6" stroke-opacity="0.12"/>
<path d="M135.2 495.9Q232.6 386.1 371.9 340.2" stroke="#9555ae" stroke-width="2" stroke-opacity="0.16"/>
<path d="M133.1 445Q239.4 362.8 371.9 340.2" stroke="#9555ae" stroke-width="6" stroke-opacity="0.13"/>
<path d="M442.2 357.4Q442.3 383.7 425.2 403.6" stroke="#5fb654" stroke-width="1" stroke-opacity="0.15"/>
<path d="M425.2 403.6Q510.8 368.6 602.9 376.8" stroke="#5fb654" stroke-width="2" stroke-opacity="0.23"/>
<path d="M567.2 356.5Q502.8 399.9 425.2 403.6" stroke="#5fb654" stroke-width="6" stroke-opacity="0.21"/>
<path d="M654.2 399.1Q540.4 436.7 425.2 403.6" stroke="#5fb654" stroke-width="2" stroke-opacity="0.17"/>
<path d="M425.2 403.6Q536.6 351.8 659.3 359" stroke="#5fb654" stroke-width="6" stroke-opacity="0.20"/>
<path d="M504.3 375Q467.4 396.7 425.2 403.6" stroke="#5fb654" stroke-width="5" stroke-opacity="0.13"/>
<path d="M425.2 403.6Q489.7 397.1 545.5 430.1" stroke="#5fb654" stroke-width="2" stroke-opacity="0.20"/>
<path d="M425.2 403.6Q394.2 429.2 357.6 446" stroke="#5fb654" stroke-width="2" stroke-opacity="0.22"/>
<path d="M425.2 403.6Q444.2 440.9 452.8 481.9" stroke="#5fb654" stroke-width="2" stroke-opacity="0.21"/>
<path d="M434 453Q425.6 429 425.2 403.6" stroke="#5fb654" stroke-width="5" stroke-opacity="0.15"/>
<path d="M665 442Q538.1 466.8 425.2 403.6" stroke="#5fb654" stroke-width="1.5" stroke-opacity="0.21"/>
<path d="M425.2 403.6Q473.6 435.9 504.9 484.9" stroke="#5fb654" stroke-width="2" stroke-opacity="0.19"/>
<path d="M596.2 488.6Q505.6 456.4 425.2 403.6" stroke="#5fb654" stroke-width="5" stroke-opacity="0.23"/>
<path d="M442.2 357.4Q525.4 343.6 602.9 376.8" stroke="#5fb654" stroke-width="1" stroke-opacity="0.20"/>
<path d="M567.2 356.5Q504.9 379 442.2 357.4" stroke="#5fb654" stroke-width="2" stroke-opacity="0.12"/>
<path d="M442.2 357.4Q551.1 315.3 659.3 359" stroke="#5fb654" stroke-width="2" stroke-opacity="0.20"/>
<path d="M442.2 357.4Q474.5 361.7 504.3 375" stroke="#5fb654" stroke-width="4" stroke-opacity="0.20"/>
<path d="M361.9 388.8Q399 365.2 442.2 357.4" stroke="#5fb654" stroke-width="1.5" stroke-opacity="0.13"/>
<path d="M442.2 357.4Q508.2 373.4 545.5 430.1" stroke="#5fb654" stroke-width="6" stroke-opacity="0.19"/>
<path d="M442.2 357.4Q413.7 414.9 357.6 446" stroke="#5fb654" stroke-width="1.5" stroke-opacity="0.13"/>
<path d="M442.2 357.4Q462.1 418.4 452.8 481.9" stroke="#5fb654" stroke-width="5" stroke-opacity="0.17"/>
<path d="M434 453Q421.2 403.7 442.2 357.4" stroke="#5fb654" stroke-width="1.5" stroke-opacity="0.23"/>
<path d="M442.2 357.4Q563.8 372.9 665 442" stroke="#5fb654" stroke-width="2" stroke-opacity="0.22"/>
<path d="M596.2 488.6Q508.9 435.1 442.2 357.4" stroke="#5fb654" stroke-width="6" stroke-opacity="0.15"/>
<path d="M38 456Q220.6 326.9 442.2 357.4" stroke="#9555ae" stroke-width="1.5" stroke-opacity="0.11"/>
<path d="M602.9 376.8Q628.7 360.3 659.3 359" stroke="#5fb654" stroke-width="2" stroke-opacity="0.12"/>
<path d="M504.3 375Q553.8 365.4 602.9 376.8" stroke="#5fb654" stroke-width="4" stroke-opacity="0.23"/>
<path d="M361.9 388.8Q480.8 350.4 602.9 376.8" stroke="#5fb654" stroke-width="4" stroke-opacity="0.22"/>
<path d="M545.5 430.1Q568.5 397.3 602.9 376.8" stroke="#5fb654" stroke-width="4" stroke-opacity="0.17"/>
<path d="M602.9 376.8Q489.5 444.4 357.6 446" stroke="#5fb654" stroke-width="6" stroke-opacity="0.14"/>
<path d="M452.8 481.9Q513.9 409.4 602.9 376.8" stroke="#5fb654" stroke-width="5" stroke-opacity="0.23"/>
<path d="M434 453Q505.8 386.9 602.9 376.8" stroke="#5fb654" stroke-width="2" stroke-opacity="0.15"/>
<path d="M602.9 376.8Q563.1 439.1 504.9 484.9" stroke="#5fb654" stroke-width="1.5" stroke-opacity="0.24"/>
<path d="M596.2 488.6Q589 432.1 602.9 376.8" stroke="#5fb654" stroke-width="3" stroke-opacity="0.21"/>
<path d="M86 394.8Q341.8 310 602.9 376.8" stroke="#9555ae" stroke-width="2" stroke-opacity="0.13"/>
<path d="M214.7 455.1Q400.8 376.1 602.9 376.8" stroke="#9555ae" stroke-width="1" stroke-opacity="0.14"/>
<path d="M135.2 495.9Q360.7 403.4 602.9 376.8" stroke="#9555ae" stroke-width="1" stroke-opacity="0.08"/>
<path d="M654.2 399.1Q605.5 388.5 567.2 356.5" stroke="#5fb654" stroke-width="3" stroke-opacity="0.23"/>
<path d="M567.2 356.5Q538.7 375.9 504.3 375" stroke="#5fb654" stroke-width="2" stroke-opacity="0.17"/>
<path d="M361.9 388.8Q461.7 354.4 567.2 356.5" stroke="#5fb654" stroke-width="4" stroke-opacity="0.16"/>
<path d="M545.5 430.1Q543.7 389.6 567.2 356.5" stroke="#5fb654" stroke-width="1.5" stroke-opacity="0.22"/>
<path d="M567.2 356.5Q468.7 416 357.6 446" stroke="#5fb654" stroke-width="1" stroke-opacity="0.22"/>
<path d="M452.8 481.9Q499.3 409.4 567.2 356.5" stroke="#5fb654" stroke-width="3" stroke-opacity="0.20"/>
<path d="M567.2 356.5Q515.2 424.9 434 453" stroke="#5fb654" stroke-width="1" stroke-opacity="0.17"/>
<path d="M567.2 356.5Q624.4 389.7 665 442" stroke="#5fb654" stroke-width="1.5" stroke-opacity="0.16"/>
<path d="M38 456Q294.3 362.2 567.2 356.5" stroke="#9555ae" stroke-width="2" stroke-opacity="0.11"/>
<path d="M659.3 359Q660.2 379.5 654.2 399.1" stroke="#5fb654" stroke-width="1" stroke-opacity="0.15"/>
<path d="M654.2 399.1Q574.8 414.8 504.3 375" stroke="#5fb654" stroke-width="4" stroke-opacity="0.15"/>
<path d="M654.2 399.1Q506.2 445.7 361.9 388.8" stroke="#5fb654" stroke-width="1.5" stroke-opacity="0.20"/>
<path d="M654.2 399.1Q602.2 422.8 545.5 430.1" stroke="#5fb654" stroke-width="6" stroke-opacity="0.18"/>
<path d="M654.2 399.1Q511.9 460.3 357.6 446" stroke="#5fb654" stroke-width="5" stroke-opacity="0.13"/>
<path d="M654.2 399.1Q560.7 458 452.8 481.9" stroke="#5fb654" stroke-width="6" stroke-opacity="0.13"/>
<path d="M654.2 399.1Q551.5 456.4 434 453" stroke="#5fb654" stroke-width="2" stroke-opacity="0.23"/>
<path d="M654.2 399.1Q667.4 418.6 665 442" stroke="#5fb654" stroke-width="2" stroke-opacity="0.19"/>
<path d="M654.2 399.1Q370 414.4 86 394.8" stroke="#5fb654" stroke-width="5" stroke-opacity="0.08"/>
<path d="M38 456Q339 350.8 654.2 399.1" stroke="#9555ae" stroke-width="4" stroke-opacity="0.16"/>
<path d="M135.2 495.9Q385.1 396 654.2 399.1" stroke="#9555ae" stroke-width="3" stroke-opacity="0.08"/>
<path d="M504.3 375Q580.4 353.8 659.3 359" stroke="#5fb654" stroke-width="6" stroke-opacity="0.18"/>
<path d="M361.9 388.8Q505.9 327.5 659.3 359" stroke="#5fb654" stroke-width="1" stroke-opacity="0.20"/>
<path d="M545.5 430.1Q596.7 385.5 659.3 359" stroke="#5fb654" stroke-width="6" stroke-opacity="0.20"/>
<path d="M659.3 359Q524.1 456.8 357.6 446" stroke="#5fb654" stroke-width="4" stroke-opacity="0.21"/>
<path d="M452.8 481.9Q548.4 407.6 659.3 359" stroke="#5fb654" stroke-width="2" stroke-opacity="0.20"/>
<path d="M434 453Q540.5 391.3 659.3 359" stroke="#5fb654" stroke-width="6" stroke-opacity="0.15"/>
<path d="M659.3 359Q670.8 399.9 665 442" stroke="#5fb654" stroke-width="2" stroke-opacity="0.16"/>
<path d="M659.3 359Q589.9 431.5 504.9 484.9" stroke="#5fb654" stroke-width="1" stroke-opacity="0.20"/>
<path d="M86 394.8Q366.8 282.9 659.3 359" stroke="#9555ae" stroke-width="5" stroke-opacity="0.16"/>
<path d="M659.3 359Q354.5 444.8 38 456" stroke="#5fb654" stroke-width="2" stroke-opacity="0.15"/>
<path d="M659.3 359Q400.6 440.4 135.2 495.9" stroke="#5fb654" stroke-width="3" stroke-opacity="0.07"/>
<path d="M361.9 388.8Q432.3 373.4 504.3 375" stroke="#5fb654" stroke-width="2" stroke-opacity="0.22"/>
<path d="M504.3 375Q532.4 396.9 545.5 430.1" stroke="#5fb654" stroke-width="6" stroke-opacity="0.18"/>
<path d="M504.3 375Q439.3 427.8 357.6 446" stroke="#5fb654" stroke-width="1.5" stroke-opacity="0.15"/>
<path d="M504.3 375Q592.6 389.3 665 442" stroke="#5fb654" stroke-width="1" stroke-opacity="0.14"/>
<path d="M504.9 484.9Q489.2 430 504.3 375" stroke="#5fb654" stroke-width="5" stroke-opacity="0.15"/>
<path d="M504.3 375Q568.4 417.1 596.2 488.6" stroke="#5fb654" stroke-width="3" stroke-opacity="0.24"/>
<path d="M86 394.8Q291.5 306.9 504.3 375" stroke="#9555ae" stroke-width="1" stroke-opacity="0.17"/>
<path d="M192.5 410.5Q344.2 355.7 504.3 375" stroke="#9555ae" stroke-width="1.5" stroke-opacity="0.16"/>
<path d="M361.9 388.8Q459.2 384.8 545.5 430.1" stroke="#5fb654" stroke-width="2" stroke-opacity="0.18"/>
<path d="M361.9 388.8Q367.9 418 357.6 446" stroke="#5fb654" stroke-width="2" stroke-opacity="0.17"/>
<path d="M361.9 388.8Q418.3 424.7 452.8 481.9" stroke="#5fb654" stroke-width="3" stroke-opacity="0.20"/>
<path d="M665 442Q506.7 453.6 361.9 388.8" stroke="#5fb654" stroke-width="1" stroke-opacity="0.19"/>
<path d="M504.9 484.9Q423.1 452.2 361.9 388.8" stroke="#5fb654" stroke-width="1" stroke-opacity="0.17"/>
<path d="M596.2 488.6Q468.5 463.4 361.9 388.8" stroke="#5fb654" stroke-width="2" stroke-opacity="0.18"/>
<path d="M361.9 388.8Q203.6 439.9 38 456" stroke="#5fb654" stroke-width="5" stroke-opacity="0.11"/>
<path d="M214.7 455.1Q279.7 402.9 361.9 388.8" stroke="#9555ae" stroke-width="3" stroke-opacity="0.11"/>
<path d="M357.6 446Q450.3 423.2 545.5 430.1" stroke="#5fb654" stroke-width="1.5" stroke-opacity="0.12"/>
<path d="M545.5 430.1Q505.6 467.5 452.8 481.9" stroke="#5fb654" stroke-width="1.5" stroke-opacity="0.18"/>
<path d="M434 453Q487 428 545.5 430.1" stroke="#5fb654" stroke-width="4" stroke-opacity="0.20"/>
<path d="M545.5 430.1Q607.3 415.8 665 442" stroke="#5fb654" stroke-width="1" stroke-opacity="0.20"/>
<path d="M545.5 430.1Q533.4 463.6 504.9 484.9" stroke="#5fb654" stroke-width="3" stroke-opacity="0.22"/>
<path d="M596.2 488.6Q560.4 468.4 545.5 430.1" stroke="#5fb654" stroke-width="2" stroke-opacity="0.16"/>
<path d="M192.5 410.5Q372.6 355.9 545.5 430.1" stroke="#9555ae" stroke-width="4" stroke-opacity="0.15"/>
<path d="M214.7 455.1Q376.6 396.8 545.5 430.1" stroke="#9555ae" stroke-width="5" stroke-opacity="0.11"/>
<path d="M135.2 495.9Q334.1 424.1 545.5 430.1" stroke="#9555ae" stroke-width="1.5" stroke-opacity="0.08"/>
<path d="M133.1 445Q338.2 406.2 545.5 430.1" stroke="#9555ae" stroke-width="2" stroke-opacity="0.07"/>
<path d="M357.6 446Q510.8 407.6 665 442" stroke="#5fb654" stroke-width="4" stroke-opacity="0.16"/>
<path d="M357.6 446Q435 451.2 504.9 484.9" stroke="#5fb654" stroke-width="1" stroke-opacity="0.23"/>
<path d="M357.6 446Q481 444.2 596.2 488.6" stroke="#5fb654" stroke-width="1" stroke-opacity="0.20"/>
<path d="M357.6 446Q248.9 482.1 135.2 495.9" stroke="#5fb654" stroke-width="5" stroke-opacity="0.15"/>
<path d="M452.8 481.9Q438.4 470.7 434 453" stroke="#5fb654" stroke-width="3" stroke-opacity="0.22"/>
<path d="M665 442Q563.8 488.1 452.8 481.9" stroke="#5fb654" stroke-width="2" stroke-opacity="0.22"/>
<path d="M504.9 484.9Q478.5 490 452.8 481.9" stroke="#5fb654" stroke-width="1.5" stroke-opacity="0.22"/>
<path d="M452.8 481.9Q525.5 463.9 596.2 488.6" stroke="#5fb654" stroke-width="2" stroke-opacity="0.13"/>
<path d="M86 394.8Q278.7 399.3 452.8 481.9" stroke="#9555ae" stroke-width="3" stroke-opacity="0.12"/>
<path d="M192.5 410.5Q329.8 420 452.8 481.9" stroke="#9555ae" stroke-width="1" stroke-opacity="0.09"/>
<path d="M434 453Q548.7 431.6 665 442" stroke="#5fb654" stroke-width="3" stroke-opacity="0.14"/>
<path d="M434 453Q473.7 459.5 504.9 484.9" stroke="#5fb654" stroke-width="3" stroke-opacity="0.17"/>
<path d="M596.2 488.6Q512.7 481.6 434 453" stroke="#5fb654" stroke-width="4" stroke-opacity="0.13"/>
<path d="M434 453Q312.9 433.5 192.5 410.5" stroke="#5fb654" stroke-width="2" stroke-opacity="0.12"/>
<path d="M504.9 484.9Q578.6 439.9 665 442" stroke="#5fb654" stroke-width="1.5" stroke-opacity="0.20"/>
<path d="M665 442Q639 477.6 596.2 488.6" stroke="#5fb654" stroke-width="2" stroke-opacity="0.17"/>
<path d="M504.9 484.9Q551.2 469.5 596.2 488.6" stroke="#5fb654" stroke-width="6" stroke-opacity="0.13"/>
<path d="M504.9 484.9Q292.1 455.4 86 394.8" stroke="#5fb654" stroke-width="5" stroke-opacity="0.08"/>
<path d="M192.5 410.5Q354.1 425.2 504.9 484.9" stroke="#9555ae" stroke-width="3" stroke-opacity="0.11"/>
<path d="M504.9 484.9Q358.6 481.7 214.7 455.1" stroke="#5fb654" stroke-width="1" stroke-opacity="0.07"/>
<path d="M135.2 495.9Q364.9 441.2 596.2 488.6" stroke="#9555ae" stroke-width="3" stroke-opacity="0.14"/>
<path d="M192.5 410.5Q136.7 420.1 86 394.8" stroke="#9555ae" stroke-width="1.5" stroke-opacity="0.15"/>
<path d="M38 456Q56.7 421.3 86 394.8" stroke="#9555ae" stroke-width="6" stroke-opacity="0.15"/>
<path d="M214.7 455.1Q140.5 445.9 86 394.8" stroke="#9555ae" stroke-width="5" stroke-opacity="0.21"/>
<path d="M86 394.8Q128.2 436.8 135.2 495.9" stroke="#9555ae" stroke-width="6" stroke-opacity="0.13"/>
<path d="M86 394.8Q118.3 411.7 133.1 445" stroke="#9555ae" stroke-width="3" stroke-opacity="0.18"/>
<path d="M38 456Q107.9 408.2 192.5 410.5" stroke="#9555ae" stroke-width="4" stroke-opacity="0.16"/>
<path d="M214.7 455.1Q200.9 434.1 192.5 410.5" stroke="#9555ae" stroke-width="5" stroke-opacity="0.13"/>
<path d="M192.5 410.5Q179.7 463.9 135.2 495.9" stroke="#9555ae" stroke-width="3" stroke-opacity="0.19"/>
<path d="M192.5 410.5Q166.2 433.5 133.1 445" stroke="#9555ae" stroke-width="4" stroke-opacity="0.22"/>
<path d="M38 456Q126.3 437.9 214.7 455.1" stroke="#9555ae" stroke-width="4" stroke-opacity="0.17"/>
<path d="M38 456Q93.3 459.6 135.2 495.9" stroke="#9555ae" stroke-width="5" stroke-opacity="0.21"/>
<path d="M133.1 445Q87.3 465.9 38 456" stroke="#9555ae" stroke-width="1" stroke-opacity="0.24"/>
<path d="M135.2 495.9Q170.6 467.1 214.7 455.1" stroke="#9555ae" stroke-width="3" stroke-opacity="0.18"/>
<path d="M214.7 455.1Q172.8 458.8 133.1 445" stroke="#9555ae" stroke-width="2" stroke-opacity="0.18"/>
<path d="M135.2 495.9Q124.8 470.8 133.1 445" stroke="#9555ae" stroke-width="2" stroke-opacity="0.22"/>
<path d="M213.9 258.3Q393.4 317.7 545.5 430.1" stroke="#f29b4a" stroke-width="8" stroke-opacity="0.40"/>
<path d="M239.1 202.6Q388.9 262.3 504.3 375" stroke="#f29b4a" stroke-width="6" stroke-opacity="0.35"/>
<path d="M292.1 282Q370.9 312.2 442.2 357.4" stroke="#f29b4a" stroke-width="6" stroke-opacity="0.35"/>
<path d="M309.5 248.8Q418 250.3 517.6 293.4" stroke="#5fb654" stroke-width="9" stroke-opacity="0.45"/>
<path d="M292.1 282Q457.5 262.8 617.5 308.7" stroke="#5fb654" stroke-width="7" stroke-opacity="0.40"/>
<path d="M292.1 282Q370.2 281.2 447 295.9" stroke="#5fb654" stroke-width="6" stroke-opacity="0.35"/>
<path d="M329.6 217Q480.9 239.8 617.5 308.7" stroke="#5fb654" stroke-width="5" stroke-opacity="0.30"/>
<path d="M86 394.8Q223.8 383.5 361.9 388.8" stroke="#9555ae" stroke-width="9" stroke-opacity="0.35"/>
<path d="M86 394.8Q255.9 389 425.2 403.6" stroke="#9555ae" stroke-width="5" stroke-opacity="0.30"/>
<path d="M38 456Q126.3 444.9 214.7 455.1" stroke="#9555ae" stroke-width="10" stroke-opacity="0.40"/>
<path d="M86 394.8Q140.8 392 192.5 410.5" stroke="#9555ae" stroke-width="6" stroke-opacity="0.35"/>
<path d="M38 456Q84.5 441 133.1 445" stroke="#9555ae" stroke-width="7" stroke-opacity="0.35"/>
<path d="M133.1 445Q174.9 441.9 214.7 455.1" stroke="#9555ae" stroke-width="7" stroke-opacity="0.35"/>
<path d="M86 394.8Q156.4 412.1 214.7 455.1" stroke="#9555ae" stroke-width="5" stroke-opacity="0.30"/>
<path d="M86 394.8Q317.7 257.3 580.8 198.9" stroke="#9555ae" stroke-width="7" stroke-opacity="0.40"/>
<path d="M192.5 410.5Q369.7 273.6 580.8 198.9" stroke="#9555ae" stroke-width="6" stroke-opacity="0.35"/>
<path d="M86 394.8Q282.6 256.8 512.5 187" stroke="#9555ae" stroke-width="5" stroke-opacity="0.30"/>
<path d="M192.5 410.5Q308.6 289.2 450.1 198.9" stroke="#9555ae" stroke-width="5" stroke-opacity="0.30"/>
<path d="M86 394.8Q91 323.9 96 253" stroke="#9555ae" stroke-width="5" stroke-opacity="0.30"/>
<path d="M86 394.8Q112.9 342.9 143.9 293.4" stroke="#9555ae" stroke-width="5" stroke-opacity="0.30"/>
<path d="M86 394.8Q81.1 293.4 88.4 192.2" stroke="#9555ae" stroke-width="5" stroke-opacity="0.30"/>
<path d="M86 394.8Q147.2 324 213.9 258.3" stroke="#9555ae" stroke-width="4" stroke-opacity="0.30"/>
<path d="M86 394.8Q158.7 295.6 239.1 202.6" stroke="#9555ae" stroke-width="4" stroke-opacity="0.28"/>
<path d="M86 394.8Q108.6 302.6 138.4 212.4" stroke="#9555ae" stroke-width="3" stroke-opacity="0.25"/>
<path d="M86 394.8Q154.3 345.7 226.3 302.2" stroke="#9555ae" stroke-width="4" stroke-opacity="0.28"/>
<path d="M86 394.8Q108.8 280.6 140.6 168.5" stroke="#9555ae" stroke-width="3" stroke-opacity="0.25"/>
<path d="M38 456Q52.6 322.1 88.4 192.2" stroke="#9555ae" stroke-width="3" stroke-opacity="0.22"/>
<path d="M38 456Q60.9 352.8 96 253" stroke="#9555ae" stroke-width="3" stroke-opacity="0.22"/>
<path d="M192.5 410.5Q200.2 334 213.9 258.3" stroke="#9555ae" stroke-width="3" stroke-opacity="0.25"/>
<path d="M192.5 410.5Q239.7 344.3 292.1 282" stroke="#9555ae" stroke-width="3" stroke-opacity="0.25"/>
<path d="M135.2 495.9Q135.5 394.5 143.9 293.4" stroke="#9555ae" stroke-width="3" stroke-opacity="0.22"/>
<path d="M471.6 133.3Q495.9 92.1 543.7 94.2" stroke="#4a8fd4" stroke-width="14" stroke-opacity="0.50"/>
<path d="M512.5 187Q518.2 240 517.6 293.4" stroke="#4a8fd4" stroke-width="10" stroke-opacity="0.45"/>
<path d="M512.5 187Q514 281.2 504.3 375" stroke="#4a8fd4" stroke-width="6" stroke-opacity="0.35"/>
<path d="M580.8 198.9Q567.8 315.2 545.5 430.1" stroke="#4a8fd4" stroke-width="9" stroke-opacity="0.45"/>
<path d="M580.8 198.9Q595.4 287.4 602.9 376.8" stroke="#4a8fd4" stroke-width="8" stroke-opacity="0.40"/>
<path d="M580.8 198.9Q577.2 278 567.2 356.5" stroke="#4a8fd4" stroke-width="6" stroke-opacity="0.35"/>
<path d="M576.3 142Q605.2 223.3 617.5 308.7" stroke="#4a8fd4" stroke-width="6" stroke-opacity="0.35"/>
<path d="M450.1 198.9Q486.8 262.4 510.2 331.9" stroke="#4a8fd4" stroke-width="6" stroke-opacity="0.35"/>
<path d="M617.5 308.7Q593.7 255.6 580.8 198.9" stroke="#5fb654" stroke-width="6" stroke-opacity="0.30"/>
<path d="M659.3 359Q647.7 261.5 655.7 163.6" stroke="#5fb654" stroke-width="4" stroke-opacity="0.25"/>
<path d="M654.2 399.1Q607.5 302.7 580.8 198.9" stroke="#5fb654" stroke-width="4" stroke-opacity="0.25"/>
<path d="M665 442Q605.6 296.4 576.3 142" stroke="#5fb654" stroke-width="4" stroke-opacity="0.25"/>
<path d="M471.6 133.3Q523.4 278 545.5 430.1" stroke="#4a8fd4" stroke-width="5" stroke-opacity="0.25"/>
<path d="M197.1 153.6Q309.1 84.5 439 63.8" stroke="#f29b4a" stroke-width="4" stroke-opacity="0.20"/>
<path d="M213.9 258.3Q255.4 262.3 292.1 282" stroke="#f29b4a" stroke-width="9" stroke-opacity="0.45"/>
<path d="M239.1 202.6Q273.5 237 292.1 282" stroke="#f29b4a" stroke-width="8" stroke-opacity="0.45"/>
<path d="M239.1 202.6Q278.9 218.7 309.5 248.8" stroke="#f29b4a" stroke-width="7" stroke-opacity="0.40"/>
<path d="M239.1 202.6Q232.1 233 213.9 258.3" stroke="#f29b4a" stroke-width="7" stroke-opacity="0.40"/>
<path d="M96 253Q155.5 243.9 213.9 258.3" stroke="#f29b4a" stroke-width="6" stroke-opacity="0.35"/>
<path d="M239.1 202.6Q285.8 200.8 329.6 217" stroke="#f29b4a" stroke-width="6" stroke-opacity="0.35"/>
<path d="M213.9 258.3Q267.6 226.1 329.6 217" stroke="#f29b4a" stroke-width="6" stroke-opacity="0.35"/>
<path d="M88.4 192.2Q164.8 182.3 239.1 202.6" stroke="#f29b4a" stroke-width="5" stroke-opacity="0.30"/>
<path d="M143.9 293.4Q186 289.6 226.3 302.2" stroke="#f29b4a" stroke-width="5" stroke-opacity="0.30"/>
<path d="M239.1 202.6Q318.8 131.9 419.6 97.4" stroke="#f29b4a" stroke-width="4" stroke-opacity="0.20"/>
<path d="M239.1 202.6Q348.4 144.7 471.6 133.3" stroke="#f29b4a" stroke-width="5" stroke-opacity="0.25"/>
<path d="M239.1 202.6Q312.7 171.4 392.4 164.8" stroke="#f29b4a" stroke-width="6" stroke-opacity="0.35"/>
<path d="M197.1 153.6Q295.9 139.7 392.4 164.8" stroke="#f29b4a" stroke-width="5" stroke-opacity="0.30"/>
<path d="M213.9 258.3Q295.7 197.3 392.4 164.8" stroke="#f29b4a" stroke-width="4" stroke-opacity="0.30"/>
<path d="M140.6 168.5Q266.1 141.5 392.4 164.8" stroke="#f29b4a" stroke-width="4" stroke-opacity="0.28"/>
<path d="M329.6 217Q356.8 185.9 392.4 164.8" stroke="#f29b4a" stroke-width="5" stroke-opacity="0.30"/>
<path d="M329.6 217Q393.9 163.8 471.6 133.3" stroke="#f29b4a" stroke-width="4" stroke-opacity="0.28"/>
<path d="M88.4 192.2Q242.6 105.1 419.6 97.4" stroke="#f29b4a" stroke-width="3" stroke-opacity="0.25"/>
<path d="M197.1 153.6Q281.8 118.4 373.2 125.5" stroke="#f29b4a" stroke-width="4" stroke-opacity="0.28"/>
<path d="M138.4 212.4Q348.9 124.7 576.3 142" stroke="#f29b4a" stroke-width="3" stroke-opacity="0.22"/>
<path d="M96 253Q235.4 179.3 392.4 164.8" stroke="#f29b4a" stroke-width="3" stroke-opacity="0.22"/>
<path d="M292.1 282Q332.9 215.4 392.4 164.8" stroke="#f29b4a" stroke-width="4" stroke-opacity="0.28"/>
<path d="M135.2 495.9Q242.9 455.3 357.6 446" stroke="#9555ae" stroke-width="1" stroke-opacity="0.14"/>
<path d="M135.2 495.9Q319.3 463.7 504.9 484.9" stroke="#9555ae" stroke-width="3" stroke-opacity="0.14"/>
<path d="M135.2 495.9Q365.5 481.3 596.2 488.6" stroke="#9555ae" stroke-width="2" stroke-opacity="0.11"/>
<path d="M135.2 495.9Q338.9 454.2 545.5 430.1" stroke="#9555ae" stroke-width="1" stroke-opacity="0.15"/>
<path d="M135.2 495.9Q246.1 437.1 361.9 388.8" stroke="#9555ae" stroke-width="1" stroke-opacity="0.12"/>
<path d="M214.7 455.1Q324.3 445.6 434 453" stroke="#9555ae" stroke-width="3" stroke-opacity="0.16"/>
<path d="M214.7 455.1Q406.7 457.1 596.2 488.6" stroke="#9555ae" stroke-width="2" stroke-opacity="0.14"/>
<path d="M214.7 455.1Q283 410.2 361.9 388.8" stroke="#9555ae" stroke-width="1" stroke-opacity="0.13"/>
<path d="M133.1 445Q245.4 429.2 357.6 446" stroke="#9555ae" stroke-width="3" stroke-opacity="0.11"/>
<path d="M133.1 445Q295.7 439.3 452.8 481.9" stroke="#9555ae" stroke-width="2" stroke-opacity="0.12"/>
<path d="M133.1 445Q244.9 406.4 361.9 388.8" stroke="#9555ae" stroke-width="3" stroke-opacity="0.13"/>
<path d="M38 456Q197.4 439 357.6 446" stroke="#9555ae" stroke-width="1" stroke-opacity="0.09"/>
<path d="M38 456Q235.8 427.7 434 453" stroke="#9555ae" stroke-width="2" stroke-opacity="0.09"/>
<path d="M38 456Q273.7 433.3 504.9 484.9" stroke="#9555ae" stroke-width="2" stroke-opacity="0.15"/>
<path d="M38 456Q317.9 458.6 596.2 488.6" stroke="#9555ae" stroke-width="3" stroke-opacity="0.13"/>
<path d="M38 456Q290.7 422.9 545.5 430.1" stroke="#9555ae" stroke-width="2" stroke-opacity="0.10"/>
<path d="M38 456Q230.1 418.7 425.2 403.6" stroke="#9555ae" stroke-width="1" stroke-opacity="0.13"/>
<path d="M239 202C255.5 212.2 310.3 247 338 263C365.7 279 383 283.2 405 298C427 312.8 446.7 330 470 352C493.3 374 532.5 417 545 430" stroke="#f29b4a" stroke-width="13" stroke-opacity="0.80"/>
<path d="M239 202C254.2 211.3 303.2 241.7 330 258C356.8 274.3 374.7 280.8 400 300C425.3 319.2 457.8 351.3 482 373C506.2 394.7 534.5 420.5 545 430" stroke="#f29b4a" stroke-width="5" stroke-opacity="0.35"/>
<path d="M214 258C233.3 260.8 295.7 264.7 330 275C364.3 285.3 384.2 294.2 420 320C455.8 345.8 524.2 411.7 545 430" stroke="#f29b4a" stroke-width="5" stroke-opacity="0.30"/>
</g>
<polygon points="194,120 361,214.4 322,296 281,313 234,331 122,317 62.5,259 56.4,181" fill="#f39a45" fill-opacity="0.3" stroke="none"/>
<polygon points="504,11.3 612,32 671.3,70.6 682.7,170.6 659,188 600.7,227.4 520,223.6 428.4,218 391.9,194.6 359,174.4 345.2,125.2 412,46.2" fill="#4a90d6" fill-opacity="0.28" stroke="none"/>
<polygon points="341.8,328.5 426,271 516,265.2 643.3,285.4 691.7,348.2 694,451.8 620,515.2 435.7,506 410,495.7 325.1,456.1" fill="#6cc060" fill-opacity="0.32" stroke="none"/>
<polygon points="60.5,373.1 217.8,391.5 246.1,460 129.2,526.8 5.9,457.5" fill="#9558ad" fill-opacity="0.28" stroke="none"/>
<polygon points="194,120 361,214.4 322,296 281,313 234,331 122,317 62.5,259 56.4,181" fill="none" stroke="#f39a45" stroke-width="2.6" stroke-linejoin="miter"/>
<polygon points="504,11.3 612,32 671.3,70.6 682.7,170.6 659,188 600.7,227.4 520,223.6 428.4,218 391.9,194.6 359,174.4 345.2,125.2 412,46.2" fill="none" stroke="#4a90d6" stroke-width="2.6" stroke-linejoin="miter"/>
<polygon points="341.8,328.5 426,271 516,265.2 643.3,285.4 691.7,348.2 694,451.8 620,515.2 435.7,506 410,495.7 325.1,456.1" fill="none" stroke="#6cc060" stroke-width="2.6" stroke-linejoin="miter"/>
<polygon points="60.5,373.1 217.8,391.5 246.1,460 129.2,526.8 5.9,457.5" fill="none" stroke="#9558ad" stroke-width="2.6" stroke-linejoin="miter"/>
<g stroke="#1a1a1a" stroke-width="1.6">
<circle cx="197.1" cy="153.6" r="29" fill="#f5a55a"/>
<circle cx="138.4" cy="212.4" r="24" fill="#f5a55a"/>
<circle cx="140.6" cy="168.5" r="25" fill="#f5a55a"/>
<circle cx="88.4" cy="192.2" r="29" fill="#f5a55a"/>
<circle cx="239.1" cy="202.6" r="31" fill="#f5a55a"/>
<circle cx="329.6" cy="217" r="29" fill="#f5a55a"/>
<circle cx="96" cy="253" r="29.5" fill="#f5a55a"/>
<circle cx="226.3" cy="302.2" r="26.7" fill="#f5a55a"/>
<circle cx="213.9" cy="258.3" r="29.6" fill="#f5a55a"/>
<circle cx="309.5" cy="248.8" r="23" fill="#f5a55a"/>
<circle cx="292.1" cy="282" r="27.7" fill="#f5a55a"/>
<circle cx="143.9" cy="293.4" r="28" fill="#f5a55a"/>
<circle cx="511.5" cy="44" r="26.5" fill="#5b9bd9"/>
<circle cx="594.4" cy="53" r="23.3" fill="#5b9bd9"/>
<circle cx="419.6" cy="97.4" r="27.2" fill="#5b9bd9"/>
<circle cx="439" cy="63.8" r="27.7" fill="#5b9bd9"/>
<circle cx="543.7" cy="94.2" r="28.6" fill="#5b9bd9"/>
<circle cx="645.9" cy="81.7" r="25.5" fill="#5b9bd9"/>
<circle cx="392.4" cy="164.8" r="29.6" fill="#5b9bd9"/>
<circle cx="373.2" cy="125.5" r="24.3" fill="#5b9bd9"/>
<circle cx="471.6" cy="133.3" r="31" fill="#5b9bd9"/>
<circle cx="648.6" cy="123" r="24" fill="#5b9bd9"/>
<circle cx="576.3" cy="142" r="28.2" fill="#5b9bd9"/>
<circle cx="655.7" cy="163.6" r="23.5" fill="#5b9bd9"/>
<circle cx="450.1" cy="198.9" r="24.2" fill="#5b9bd9"/>
<circle cx="512.5" cy="187" r="24" fill="#5b9bd9"/>
<circle cx="580.8" cy="198.9" r="30.5" fill="#5b9bd9"/>
<circle cx="517.6" cy="293.4" r="25" fill="#6cbf62"/>
<circle cx="617.5" cy="308.7" r="30.3" fill="#6cbf62"/>
<circle cx="421.8" cy="323.9" r="24.5" fill="#6cbf62"/>
<circle cx="447" cy="295.9" r="27" fill="#6cbf62"/>
<circle cx="510.2" cy="331.9" r="26.5" fill="#6cbf62"/>
<circle cx="371.9" cy="340.2" r="27" fill="#6cbf62"/>
<circle cx="425.2" cy="403.6" r="29" fill="#6cbf62"/>
<circle cx="442.2" cy="357.4" r="28.3" fill="#6cbf62"/>
<circle cx="602.9" cy="376.8" r="28" fill="#6cbf62"/>
<circle cx="567.2" cy="356.5" r="24.9" fill="#6cbf62"/>
<circle cx="654.2" cy="399.1" r="27.5" fill="#6cbf62"/>
<circle cx="659.3" cy="359" r="29.9" fill="#6cbf62"/>
<circle cx="504.3" cy="375" r="25.6" fill="#6cbf62"/>
<circle cx="361.9" cy="388.8" r="28.5" fill="#6cbf62"/>
<circle cx="545.5" cy="430.1" r="30.6" fill="#6cbf62"/>
<circle cx="357.6" cy="446" r="29.8" fill="#6cbf62"/>
<circle cx="452.8" cy="481.9" r="26" fill="#6cbf62"/>
<circle cx="434" cy="453" r="28.3" fill="#6cbf62"/>
<circle cx="665" cy="442" r="25.5" fill="#6cbf62"/>
<circle cx="504.9" cy="484.9" r="25" fill="#6cbf62"/>
<circle cx="596.2" cy="488.6" r="31" fill="#6cbf62"/>
<circle cx="86" cy="394.8" r="30.8" fill="#9d62b3"/>
<circle cx="192.5" cy="410.5" r="25.9" fill="#9d62b3"/>
<circle cx="38" cy="456" r="27.3" fill="#9d62b3"/>
<circle cx="214.7" cy="455.1" r="27.3" fill="#9d62b3"/>
<circle cx="135.2" cy="495.9" r="29.7" fill="#9d62b3"/>
<circle cx="133.1" cy="445" r="25.2" fill="#9d62b3"/>
</g>
<g font-size="14" fill="#000" stroke="#000" stroke-width="0.3" text-anchor="middle">
<text x="198.3" y="147.3">extracellular</text>
<text x="199.6" y="164.2">matrix</text>
<text x="140.3" y="209.8">long-term</text>
<text x="142.1" y="226.2">expansion</text>
<text x="142.1" y="175">on-a-chip</text>
<text x="88.5" y="197.7">generation</text>
<text x="240.1" y="208.6">in-vitro</text>
<text x="331.1" y="211.7">disease</text>
<text x="333" y="228.3">model</text>
<text x="94.9" y="252.7">progenitor</text>
<text x="96.7" y="269.4">cell</text>
<text x="225.9" y="299.7">airway</text>
<text x="227.8" y="315.8">epithelium</text>
<text x="215.9" y="256.1">pluripotent</text>
<text x="216.2" y="272.6">stem cell</text>
<text x="310.1" y="250.3">gene-expression</text>
<text x="293.3" y="287.3">tissue</text>
<text x="144.4" y="290.6">cystic</text>
<text x="146.6" y="306.5">fibrosis</text>
<text x="512.2" y="48.5">identification</text>
<text x="595.2" y="58.5">inhibitor</text>
<text x="420.6" y="102.4">gene</text>
<text x="439.5" y="69.6">growth</text>
<text x="544.8" y="99.7">lung cancer</text>
<text x="647.3" y="88.6">inhibition</text>
<text x="394.1" y="170.1">3d culture</text>
<text x="374.2" y="131.4">adenocarcinoma</text>
<text x="472.5" y="138.5">cancer</text>
<text x="651.5" y="122.7">patient-derived</text>
<text x="653" y="139">organoids</text>
<text x="577.3" y="147.7">culture</text>
<text x="655" y="165.5">tumor</text>
<text x="656" y="182.1">microenvironment</text>
<text x="451.1" y="204.6">mutation</text>
<text x="514.3" y="193">resistance</text>
<text x="581.8" y="204.6">model</text>
<text x="518.7" y="300.2">fibroblast</text>
<text x="618.8" y="314">differentiation</text>
<text x="424.6" y="320">idiopathic</text>
<text x="425.8" y="337.7">pulmonary fibrosis</text>
<text x="449.8" y="283.5">lung</text>
<text x="451.1" y="299.1">development</text>
<text x="510.7" y="339.9">protein</text>
<text x="369.1" y="355.8">epithelium</text>
<text x="426.3" y="410.4">activation</text>
<text x="445.8" y="356.6">pulmonary</text>
<text x="448.3" y="373.1">fibrosis</text>
<text x="604.1" y="387.9">at2 cell</text>
<text x="566.1" y="349.4">branching</text>
<text x="568.5" y="365.7">morphogenesis</text>
<text x="655.3" y="407.5">fibrosis</text>
<text x="660.4" y="364.6">mouse</text>
<text x="504.5" y="381.8">repair</text>
<text x="362.9" y="393.5">regeneration</text>
<text x="546.9" y="435.2">stem cell</text>
<text x="358.5" y="451.5">mechanism</text>
<text x="458" y="483.7">airway</text>
<text x="435.6" y="458.3">alveolus</text>
<text x="665.4" y="452.2">proliferation</text>
<text x="513.7" y="500.2">inflammation</text>
<text x="597" y="494.8">expression</text>
<text x="87.3" y="399.4">disease</text>
<text x="193.6" y="416">infection</text>
<text x="39.8" y="461.7">covid-19</text>
<text x="216.4" y="461.7">sars-cov-2</text>
<text x="136.5" y="500.4">cell</text>
<text x="134.3" y="450.6">responses</text>
</g>
<text x="746" y="16.6" font-size="16" font-weight="bold" fill="#1a1a1a">Frequency</text>
<circle cx="777.4" cy="69.3" r="32" fill="none" stroke="#26477a" stroke-width="1.5"/>
<line x1="786" y1="37.3" x2="815.5" y2="37.3" stroke="#26477a" stroke-width="1.3" stroke-dasharray="2,2"/>
<text x="820.5" y="45.5" font-size="16" fill="#222">60</text>
<text x="746" y="139.4" font-size="16" font-weight="bold" fill="#1a1a1a">cluster</text>
<circle cx="757.1" cy="168.1" r="8.2" fill="#6cbf62"/>
<text x="775" y="173.7" font-size="16" fill="#222">1</text>
<circle cx="757.1" cy="192.2" r="8.2" fill="#5b9bd9"/>
<text x="775" y="197.8" font-size="16" fill="#222">2</text>
<circle cx="757.1" cy="216.3" r="8.2" fill="#f5a55a"/>
<text x="775" y="221.9" font-size="16" fill="#222">3</text>
<circle cx="757.1" cy="240.4" r="8.2" fill="#9d62b3"/>
<text x="775" y="246" font-size="16" fill="#222">4</text>
<text x="851.8" y="41.3" font-size="37" font-weight="bold" fill="#000">B</text>
<g stroke="#e8e8e8">
<line x1="1172.9" y1="39.8" x2="1172.9" y2="435.1" stroke-width="1.1"/>
<line x1="1228.7" y1="39.8" x2="1228.7" y2="435.1" stroke-width="0.6"/>
<line x1="1284.5" y1="39.8" x2="1284.5" y2="435.1" stroke-width="1.1"/>
<line x1="1340.3" y1="39.8" x2="1340.3" y2="435.1" stroke-width="0.6"/>
<line x1="1396.1" y1="39.8" x2="1396.1" y2="435.1" stroke-width="1.1"/>
<line x1="1451.9" y1="39.8" x2="1451.9" y2="435.1" stroke-width="0.6"/>
<line x1="1507.7" y1="39.8" x2="1507.7" y2="435.1" stroke-width="1.1"/>
<line x1="1156.6" y1="57.4" x2="1524.3" y2="57.4" stroke-width="1.1"/>
<line x1="1156.6" y1="87.4" x2="1524.3" y2="87.4" stroke-width="1.1"/>
<line x1="1156.6" y1="117.4" x2="1524.3" y2="117.4" stroke-width="1.1"/>
<line x1="1156.6" y1="147.4" x2="1524.3" y2="147.4" stroke-width="1.1"/>
<line x1="1156.6" y1="177.4" x2="1524.3" y2="177.4" stroke-width="1.1"/>
<line x1="1156.6" y1="207.4" x2="1524.3" y2="207.4" stroke-width="1.1"/>
<line x1="1156.6" y1="237.4" x2="1524.3" y2="237.4" stroke-width="1.1"/>
<line x1="1156.6" y1="267.4" x2="1524.3" y2="267.4" stroke-width="1.1"/>
<line x1="1156.6" y1="297.4" x2="1524.3" y2="297.4" stroke-width="1.1"/>
<line x1="1156.6" y1="327.4" x2="1524.3" y2="327.4" stroke-width="1.1"/>
<line x1="1156.6" y1="357.4" x2="1524.3" y2="357.4" stroke-width="1.1"/>
<line x1="1156.6" y1="387.4" x2="1524.3" y2="387.4" stroke-width="1.1"/>
<line x1="1156.6" y1="417.4" x2="1524.3" y2="417.4" stroke-width="1.1"/>
</g>
<line x1="1396.1" y1="57.4" x2="1507.7" y2="57.4" stroke="#b5b5b5" stroke-width="4.5"/>
<line x1="1340.3" y1="87.4" x2="1507.7" y2="87.4" stroke="#b5b5b5" stroke-width="4.5"/>
<line x1="1396.1" y1="117.4" x2="1507.7" y2="117.4" stroke="#b5b5b5" stroke-width="4.5"/>
<line x1="1340.3" y1="147.4" x2="1451.9" y2="147.4" stroke="#b5b5b5" stroke-width="4.5"/>
<line x1="1340.3" y1="177.4" x2="1451.9" y2="177.4" stroke="#b5b5b5" stroke-width="4.5"/>
<line x1="1284.5" y1="207.4" x2="1451.9" y2="207.4" stroke="#b5b5b5" stroke-width="4.5"/>
<line x1="1340.3" y1="237.4" x2="1451.9" y2="237.4" stroke="#b5b5b5" stroke-width="4.5"/>
<line x1="1284.5" y1="267.4" x2="1451.9" y2="267.4" stroke="#b5b5b5" stroke-width="4.5"/>
<line x1="1284.5" y1="297.4" x2="1396.1" y2="297.4" stroke="#b5b5b5" stroke-width="4.5"/>
<line x1="1284.5" y1="327.4" x2="1451.9" y2="327.4" stroke="#b5b5b5" stroke-width="4.5"/>
<line x1="1284.5" y1="357.4" x2="1340.3" y2="357.4" stroke="#b5b5b5" stroke-width="4.5"/>
<line x1="1284.5" y1="387.4" x2="1396.1" y2="387.4" stroke="#b5b5b5" stroke-width="4.5"/>
<line x1="1172.9" y1="417.4" x2="1396.1" y2="417.4" stroke="#b5b5b5" stroke-width="4.5"/>
<circle cx="1396.1" cy="57.4" r="7" fill="#6ec0ad"/>
<circle cx="1507.7" cy="57.4" r="7" fill="#f81a52"/>
<circle cx="1507.7" cy="57.4" r="5.6" fill="#21739f"/>
<circle cx="1340.3" cy="87.4" r="7" fill="#6ec0ad"/>
<circle cx="1507.7" cy="87.4" r="7" fill="#f81a52"/>
<circle cx="1451.9" cy="87.4" r="10" fill="#21739f"/>
<circle cx="1396.1" cy="117.4" r="7" fill="#6ec0ad"/>
<circle cx="1507.7" cy="117.4" r="7" fill="#f81a52"/>
<circle cx="1451.9" cy="117.4" r="6.3" fill="#21739f"/>
<circle cx="1340.3" cy="147.4" r="7" fill="#6ec0ad"/>
<circle cx="1451.9" cy="147.4" r="7" fill="#f81a52"/>
<circle cx="1451.9" cy="147.4" r="6.8" fill="#21739f"/>
<circle cx="1340.3" cy="177.4" r="7" fill="#6ec0ad"/>
<circle cx="1451.9" cy="177.4" r="7" fill="#f81a52"/>
<circle cx="1396.1" cy="177.4" r="9" fill="#21739f"/>
<circle cx="1284.5" cy="207.4" r="7" fill="#6ec0ad"/>
<circle cx="1451.9" cy="207.4" r="7" fill="#f81a52"/>
<circle cx="1396.1" cy="207.4" r="7.8" fill="#21739f"/>
<circle cx="1340.3" cy="237.4" r="7" fill="#6ec0ad"/>
<circle cx="1451.9" cy="237.4" r="7" fill="#f81a52"/>
<circle cx="1396.1" cy="237.4" r="9" fill="#21739f"/>
<circle cx="1284.5" cy="267.4" r="7" fill="#6ec0ad"/>
<circle cx="1451.9" cy="267.4" r="7" fill="#f81a52"/>
<circle cx="1340.3" cy="267.4" r="6" fill="#21739f"/>
<circle cx="1284.5" cy="297.4" r="7" fill="#6ec0ad"/>
<circle cx="1396.1" cy="297.4" r="7" fill="#f81a52"/>
<circle cx="1340.3" cy="297.4" r="7" fill="#21739f"/>
<circle cx="1284.5" cy="327.4" r="7" fill="#6ec0ad"/>
<circle cx="1451.9" cy="327.4" r="7" fill="#f81a52"/>
<circle cx="1340.3" cy="327.4" r="8" fill="#21739f"/>
<circle cx="1284.5" cy="357.4" r="7" fill="#6ec0ad"/>
<circle cx="1340.3" cy="357.4" r="7" fill="#f81a52"/>
<circle cx="1284.5" cy="357.4" r="4.4" fill="#21739f"/>
<circle cx="1284.5" cy="387.4" r="7" fill="#6ec0ad"/>
<circle cx="1396.1" cy="387.4" r="7" fill="#f81a52"/>
<circle cx="1284.5" cy="387.4" r="6.9" fill="#21739f"/>
<circle cx="1172.9" cy="417.4" r="7" fill="#6ec0ad"/>
<circle cx="1396.1" cy="417.4" r="7" fill="#f81a52"/>
<circle cx="1284.5" cy="417.4" r="9" fill="#21739f"/>
<rect x="1156.6" y="39.8" width="367.7" height="395.3" fill="none" stroke="#000" stroke-width="1.4"/>
<g stroke="#333" stroke-width="1.2">
<line x1="1152" y1="57.4" x2="1156.6" y2="57.4"/>
<line x1="1152" y1="87.4" x2="1156.6" y2="87.4"/>
<line x1="1152" y1="117.4" x2="1156.6" y2="117.4"/>
<line x1="1152" y1="147.4" x2="1156.6" y2="147.4"/>
<line x1="1152" y1="177.4" x2="1156.6" y2="177.4"/>
<line x1="1152" y1="207.4" x2="1156.6" y2="207.4"/>
<line x1="1152" y1="237.4" x2="1156.6" y2="237.4"/>
<line x1="1152" y1="267.4" x2="1156.6" y2="267.4"/>
<line x1="1152" y1="297.4" x2="1156.6" y2="297.4"/>
<line x1="1152" y1="327.4" x2="1156.6" y2="327.4"/>
<line x1="1152" y1="357.4" x2="1156.6" y2="357.4"/>
<line x1="1152" y1="387.4" x2="1156.6" y2="387.4"/>
<line x1="1152" y1="417.4" x2="1156.6" y2="417.4"/>
<line x1="1172.9" y1="435.1" x2="1172.9" y2="439.7"/>
<line x1="1284.5" y1="435.1" x2="1284.5" y2="439.7"/>
<line x1="1396.1" y1="435.1" x2="1396.1" y2="439.7"/>
<line x1="1507.7" y1="435.1" x2="1507.7" y2="439.7"/>
</g>
<g font-size="23" fill="#2a2a2a" text-anchor="end">
<text x="1147" y="65">microphysiological systems</text>
<text x="1147" y="95">lung cancer</text>
<text x="1147" y="125">differentiation</text>
<text x="1147" y="155">cancer</text>
<text x="1147" y="185">sars-cov-2</text>
<text x="1147" y="215">disease model</text>
<text x="1147" y="245">covid−19</text>
<text x="1147" y="275">lung-on-a-chip</text>
<text x="1147" y="305">ipsc</text>
<text x="1147" y="335">3d culture</text>
<text x="1147" y="365">xenograft</text>
<text x="1147" y="395">wnt signaling pathway</text>
<text x="1147" y="425">stem cell</text>
</g>
<g font-size="22.5" fill="#2a2a2a" text-anchor="middle">
<text x="1172.9" y="459.1">2018</text>
<text x="1284.5" y="459.1">2020</text>
<text x="1396.1" y="459.1">2022</text>
<text x="1507.7" y="459.1">2024</text>
</g>
<text x="1341" y="495.8" font-size="28.6" fill="#000" text-anchor="middle">Year</text>
<text transform="translate(878,245.5) rotate(-90)" font-size="27.7" fill="#000" text-anchor="middle">Author's Keywords</text>
</svg></body></html>
